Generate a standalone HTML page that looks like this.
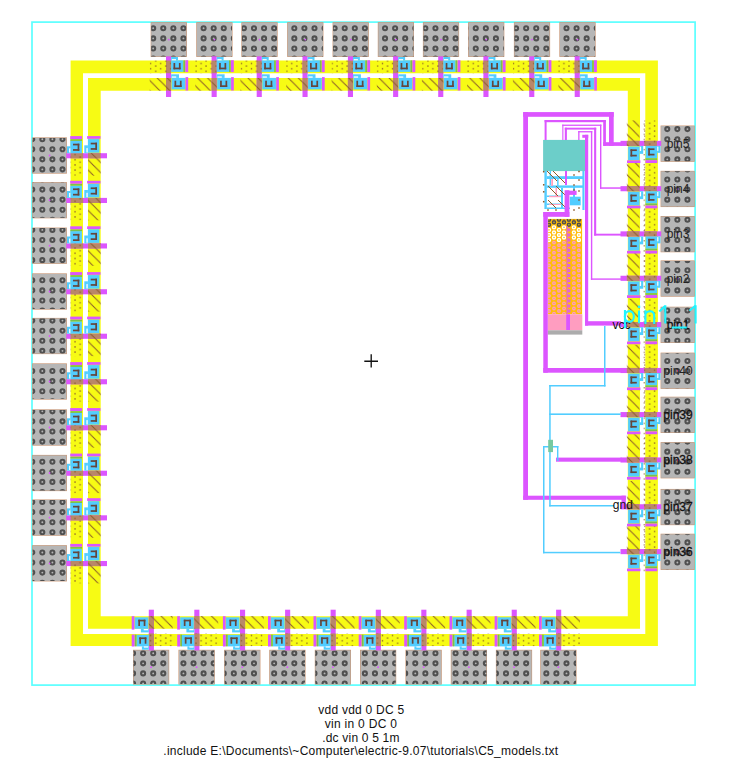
<!DOCTYPE html>
<html><head><meta charset="utf-8"><style>
html,body{margin:0;padding:0;background:#fff;}
svg{display:block;}
text{font-family:"Liberation Sans",sans-serif;}
</style></head><body>
<svg width="731" height="769" viewBox="0 0 731 769">
<defs><pattern id="dots" patternUnits="userSpaceOnUse" x="155.7" y="60.9" width="10.08" height="5.2"><rect x="-0.65" y="-0.65" width="1.3" height="1.3" fill="#8a5a28"/><rect x="9.43" y="4.55" width="1.3" height="1.3" fill="#8a5a28"/><rect x="9.43" y="-0.65" width="1.3" height="1.3" fill="#8a5a28"/><rect x="-0.65" y="4.55" width="1.3" height="1.3" fill="#8a5a28"/><rect x="4.39" y="1.95" width="1.3" height="1.3" fill="#8a5a28"/></pattern>
<pattern id="hatch" patternUnits="userSpaceOnUse" x="79.3" y="0" width="10.08" height="10.08"><path d="M-1,-1L11.08,11.08M-6,4L4,14M4,-6L14,4" stroke="#8a5a28" stroke-width="1"/></pattern>
<pattern id="vdots" patternUnits="userSpaceOnUse" x="643.4" y="159" width="3" height="5.07"><rect x="0.2" y="0" width="1.3" height="1.3" fill="#8a5a28"/></pattern>
<clipPath id="padclip"><rect x="151.2" y="22.7" width="35.2" height="33.7"/><rect x="133.5" y="650.3" width="35.2" height="33.7"/><rect x="32.7" y="137.9" width="33.7" height="35.2"/><rect x="661.1" y="126.05" width="33.1" height="35.2"/><rect x="196.8" y="22.7" width="35.2" height="33.7"/><rect x="179" y="650.3" width="35.2" height="33.7"/><rect x="32.7" y="182.6" width="33.7" height="35.2"/><rect x="661.1" y="171.35" width="33.1" height="35.2"/><rect x="241.9" y="22.7" width="35.2" height="33.7"/><rect x="224.7" y="650.3" width="35.2" height="33.7"/><rect x="32.7" y="228.1" width="33.7" height="35.2"/><rect x="661.1" y="216.55" width="33.1" height="35.2"/><rect x="287.7" y="22.7" width="35.2" height="33.7"/><rect x="269.8" y="650.3" width="35.2" height="33.7"/><rect x="32.7" y="273.9" width="33.7" height="35.2"/><rect x="661.1" y="260.95" width="33.1" height="35.2"/><rect x="333.1" y="22.7" width="35.2" height="33.7"/><rect x="315.3" y="650.3" width="35.2" height="33.7"/><rect x="32.7" y="318.4" width="33.7" height="35.2"/><rect x="661.1" y="307.25" width="33.1" height="35.2"/><rect x="378.3" y="22.7" width="35.2" height="33.7"/><rect x="360.5" y="650.3" width="35.2" height="33.7"/><rect x="32.7" y="363.9" width="33.7" height="35.2"/><rect x="661.1" y="353.15" width="33.1" height="35.2"/><rect x="423.4" y="22.7" width="35.2" height="33.7"/><rect x="406" y="650.3" width="35.2" height="33.7"/><rect x="32.7" y="409.9" width="33.7" height="35.2"/><rect x="661.1" y="397.25" width="33.1" height="35.2"/><rect x="468.6" y="22.7" width="35.2" height="33.7"/><rect x="451.3" y="650.3" width="35.2" height="33.7"/><rect x="32.7" y="455.4" width="33.7" height="35.2"/><rect x="661.1" y="442.65" width="33.1" height="35.2"/><rect x="514.4" y="22.7" width="35.2" height="33.7"/><rect x="496.4" y="650.3" width="35.2" height="33.7"/><rect x="32.7" y="500" width="33.7" height="35.2"/><rect x="661.1" y="489.45" width="33.1" height="35.2"/><rect x="559.9" y="22.7" width="35.2" height="33.7"/><rect x="540.8" y="650.3" width="35.2" height="33.7"/><rect x="32.7" y="545.7" width="33.7" height="35.2"/><rect x="661.1" y="534.25" width="33.1" height="35.2"/></clipPath>
<clipPath id="oclip"><rect x="548.1" y="218.9" width="34" height="95.4"/></clipPath></defs>
<rect width="731" height="769" fill="#fff"/>
<rect x="32" y="22.1" width="663.1" height="663" fill="none" stroke="#5cffff" stroke-width="1.7"/>
<path fill-rule="evenodd" fill="#f7fb14" d="M70.6,60.6H657.9V646.1H70.6Z M83,73.2H645.3V634H83Z M88,78H640V628.7H88Z M100.7,90.7H627.8V616.3H100.7Z"/>
<rect x="149.7" y="60.6" width="21.3" height="12.6" fill="url(#dots)"/>
<rect x="149.7" y="78" width="21.3" height="12.7" fill="url(#hatch)"/>
<rect x="148.9" y="633.5" width="23.8" height="12.6" fill="url(#dots)"/>
<rect x="148.9" y="616" width="23.8" height="12.7" fill="url(#hatch)"/>
<rect x="70.6" y="153.3" width="12.6" height="22.3" fill="url(#dots)"/>
<rect x="88" y="153.3" width="12.7" height="22.3" fill="url(#hatch)"/>
<rect x="644.3" y="120.45" width="12.6" height="25.4" fill="url(#dots)"/>
<rect x="626.8" y="120.45" width="12.7" height="25.4" fill="url(#hatch)"/>
<rect x="195.3" y="60.6" width="21.3" height="12.6" fill="url(#dots)"/>
<rect x="195.3" y="78" width="21.3" height="12.7" fill="url(#hatch)"/>
<rect x="194.4" y="633.5" width="23.8" height="12.6" fill="url(#dots)"/>
<rect x="194.4" y="616" width="23.8" height="12.7" fill="url(#hatch)"/>
<rect x="70.6" y="198" width="12.6" height="22.3" fill="url(#dots)"/>
<rect x="88" y="198" width="12.7" height="22.3" fill="url(#hatch)"/>
<rect x="644.3" y="162.95" width="12.6" height="28.2" fill="url(#dots)"/>
<rect x="626.8" y="162.95" width="12.7" height="28.2" fill="url(#hatch)"/>
<rect x="240.4" y="60.6" width="21.3" height="12.6" fill="url(#dots)"/>
<rect x="240.4" y="78" width="21.3" height="12.7" fill="url(#hatch)"/>
<rect x="240.1" y="633.5" width="23.8" height="12.6" fill="url(#dots)"/>
<rect x="240.1" y="616" width="23.8" height="12.7" fill="url(#hatch)"/>
<rect x="70.6" y="243.5" width="12.6" height="22.3" fill="url(#dots)"/>
<rect x="88" y="243.5" width="12.7" height="22.3" fill="url(#hatch)"/>
<rect x="644.3" y="208.15" width="12.6" height="28.2" fill="url(#dots)"/>
<rect x="626.8" y="208.15" width="12.7" height="28.2" fill="url(#hatch)"/>
<rect x="286.2" y="60.6" width="21.3" height="12.6" fill="url(#dots)"/>
<rect x="286.2" y="78" width="21.3" height="12.7" fill="url(#hatch)"/>
<rect x="285.2" y="633.5" width="23.8" height="12.6" fill="url(#dots)"/>
<rect x="285.2" y="616" width="23.8" height="12.7" fill="url(#hatch)"/>
<rect x="70.6" y="289.3" width="12.6" height="22.3" fill="url(#dots)"/>
<rect x="88" y="289.3" width="12.7" height="22.3" fill="url(#hatch)"/>
<rect x="644.3" y="252.55" width="12.6" height="28.2" fill="url(#dots)"/>
<rect x="626.8" y="252.55" width="12.7" height="28.2" fill="url(#hatch)"/>
<rect x="331.6" y="60.6" width="21.3" height="12.6" fill="url(#dots)"/>
<rect x="331.6" y="78" width="21.3" height="12.7" fill="url(#hatch)"/>
<rect x="330.7" y="633.5" width="23.8" height="12.6" fill="url(#dots)"/>
<rect x="330.7" y="616" width="23.8" height="12.7" fill="url(#hatch)"/>
<rect x="70.6" y="333.8" width="12.6" height="22.3" fill="url(#dots)"/>
<rect x="88" y="333.8" width="12.7" height="22.3" fill="url(#hatch)"/>
<rect x="644.3" y="298.85" width="12.6" height="28.2" fill="url(#dots)"/>
<rect x="626.8" y="298.85" width="12.7" height="28.2" fill="url(#hatch)"/>
<rect x="376.8" y="60.6" width="21.3" height="12.6" fill="url(#dots)"/>
<rect x="376.8" y="78" width="21.3" height="12.7" fill="url(#hatch)"/>
<rect x="375.9" y="633.5" width="23.8" height="12.6" fill="url(#dots)"/>
<rect x="375.9" y="616" width="23.8" height="12.7" fill="url(#hatch)"/>
<rect x="70.6" y="379.3" width="12.6" height="22.3" fill="url(#dots)"/>
<rect x="88" y="379.3" width="12.7" height="22.3" fill="url(#hatch)"/>
<rect x="644.3" y="344.75" width="12.6" height="28.2" fill="url(#dots)"/>
<rect x="626.8" y="344.75" width="12.7" height="28.2" fill="url(#hatch)"/>
<rect x="421.9" y="60.6" width="21.3" height="12.6" fill="url(#dots)"/>
<rect x="421.9" y="78" width="21.3" height="12.7" fill="url(#hatch)"/>
<rect x="421.4" y="633.5" width="23.8" height="12.6" fill="url(#dots)"/>
<rect x="421.4" y="616" width="23.8" height="12.7" fill="url(#hatch)"/>
<rect x="70.6" y="425.3" width="12.6" height="22.3" fill="url(#dots)"/>
<rect x="88" y="425.3" width="12.7" height="22.3" fill="url(#hatch)"/>
<rect x="644.3" y="388.85" width="12.6" height="28.2" fill="url(#dots)"/>
<rect x="626.8" y="388.85" width="12.7" height="28.2" fill="url(#hatch)"/>
<rect x="467.1" y="60.6" width="21.3" height="12.6" fill="url(#dots)"/>
<rect x="467.1" y="78" width="21.3" height="12.7" fill="url(#hatch)"/>
<rect x="466.7" y="633.5" width="23.8" height="12.6" fill="url(#dots)"/>
<rect x="466.7" y="616" width="23.8" height="12.7" fill="url(#hatch)"/>
<rect x="70.6" y="470.8" width="12.6" height="22.3" fill="url(#dots)"/>
<rect x="88" y="470.8" width="12.7" height="22.3" fill="url(#hatch)"/>
<rect x="644.3" y="434.25" width="12.6" height="28.2" fill="url(#dots)"/>
<rect x="626.8" y="434.25" width="12.7" height="28.2" fill="url(#hatch)"/>
<rect x="512.9" y="60.6" width="21.3" height="12.6" fill="url(#dots)"/>
<rect x="512.9" y="78" width="21.3" height="12.7" fill="url(#hatch)"/>
<rect x="511.8" y="633.5" width="23.8" height="12.6" fill="url(#dots)"/>
<rect x="511.8" y="616" width="23.8" height="12.7" fill="url(#hatch)"/>
<rect x="70.6" y="515.4" width="12.6" height="22.3" fill="url(#dots)"/>
<rect x="88" y="515.4" width="12.7" height="22.3" fill="url(#hatch)"/>
<rect x="644.3" y="481.05" width="12.6" height="28.2" fill="url(#dots)"/>
<rect x="626.8" y="481.05" width="12.7" height="28.2" fill="url(#hatch)"/>
<rect x="558.4" y="60.6" width="21.3" height="12.6" fill="url(#dots)"/>
<rect x="558.4" y="78" width="21.3" height="12.7" fill="url(#hatch)"/>
<rect x="556.2" y="633.5" width="23.8" height="12.6" fill="url(#dots)"/>
<rect x="556.2" y="616" width="23.8" height="12.7" fill="url(#hatch)"/>
<rect x="70.6" y="561.1" width="12.6" height="22.3" fill="url(#dots)"/>
<rect x="88" y="561.1" width="12.7" height="22.3" fill="url(#hatch)"/>
<rect x="644.3" y="525.85" width="12.6" height="28.2" fill="url(#dots)"/>
<rect x="626.8" y="525.85" width="12.7" height="28.2" fill="url(#hatch)"/>
<rect x="643.4" y="121.5" width="1.6" height="451.5" fill="url(#vdots)"/>
<rect x="150.7" y="22.2" width="36.2" height="34.7" fill="#c8906a"/>
<rect x="151.2" y="22.7" width="35.2" height="33.7" fill="#b6b6b6"/>
<rect x="133" y="649.8" width="36.2" height="34.7" fill="#c8906a"/>
<rect x="133.5" y="650.3" width="35.2" height="33.7" fill="#b6b6b6"/>
<rect x="32.2" y="137.4" width="34.7" height="36.2" fill="#c8906a"/>
<rect x="32.7" y="137.9" width="33.7" height="35.2" fill="#b6b6b6"/>
<rect x="660.6" y="125.55" width="34.1" height="36.2" fill="#c8906a"/>
<rect x="661.1" y="126.05" width="33.1" height="35.2" fill="#b6b6b6"/>
<rect x="196.3" y="22.2" width="36.2" height="34.7" fill="#c8906a"/>
<rect x="196.8" y="22.7" width="35.2" height="33.7" fill="#b6b6b6"/>
<rect x="178.5" y="649.8" width="36.2" height="34.7" fill="#c8906a"/>
<rect x="179" y="650.3" width="35.2" height="33.7" fill="#b6b6b6"/>
<rect x="32.2" y="182.1" width="34.7" height="36.2" fill="#c8906a"/>
<rect x="32.7" y="182.6" width="33.7" height="35.2" fill="#b6b6b6"/>
<rect x="660.6" y="170.85" width="34.1" height="36.2" fill="#c8906a"/>
<rect x="661.1" y="171.35" width="33.1" height="35.2" fill="#b6b6b6"/>
<rect x="241.4" y="22.2" width="36.2" height="34.7" fill="#c8906a"/>
<rect x="241.9" y="22.7" width="35.2" height="33.7" fill="#b6b6b6"/>
<rect x="224.2" y="649.8" width="36.2" height="34.7" fill="#c8906a"/>
<rect x="224.7" y="650.3" width="35.2" height="33.7" fill="#b6b6b6"/>
<rect x="32.2" y="227.6" width="34.7" height="36.2" fill="#c8906a"/>
<rect x="32.7" y="228.1" width="33.7" height="35.2" fill="#b6b6b6"/>
<rect x="660.6" y="216.05" width="34.1" height="36.2" fill="#c8906a"/>
<rect x="661.1" y="216.55" width="33.1" height="35.2" fill="#b6b6b6"/>
<rect x="287.2" y="22.2" width="36.2" height="34.7" fill="#c8906a"/>
<rect x="287.7" y="22.7" width="35.2" height="33.7" fill="#b6b6b6"/>
<rect x="269.3" y="649.8" width="36.2" height="34.7" fill="#c8906a"/>
<rect x="269.8" y="650.3" width="35.2" height="33.7" fill="#b6b6b6"/>
<rect x="32.2" y="273.4" width="34.7" height="36.2" fill="#c8906a"/>
<rect x="32.7" y="273.9" width="33.7" height="35.2" fill="#b6b6b6"/>
<rect x="660.6" y="260.45" width="34.1" height="36.2" fill="#c8906a"/>
<rect x="661.1" y="260.95" width="33.1" height="35.2" fill="#b6b6b6"/>
<rect x="332.6" y="22.2" width="36.2" height="34.7" fill="#c8906a"/>
<rect x="333.1" y="22.7" width="35.2" height="33.7" fill="#b6b6b6"/>
<rect x="314.8" y="649.8" width="36.2" height="34.7" fill="#c8906a"/>
<rect x="315.3" y="650.3" width="35.2" height="33.7" fill="#b6b6b6"/>
<rect x="32.2" y="317.9" width="34.7" height="36.2" fill="#c8906a"/>
<rect x="32.7" y="318.4" width="33.7" height="35.2" fill="#b6b6b6"/>
<rect x="660.6" y="306.75" width="34.1" height="36.2" fill="#c8906a"/>
<rect x="661.1" y="307.25" width="33.1" height="35.2" fill="#b6b6b6"/>
<rect x="377.8" y="22.2" width="36.2" height="34.7" fill="#c8906a"/>
<rect x="378.3" y="22.7" width="35.2" height="33.7" fill="#b6b6b6"/>
<rect x="360" y="649.8" width="36.2" height="34.7" fill="#c8906a"/>
<rect x="360.5" y="650.3" width="35.2" height="33.7" fill="#b6b6b6"/>
<rect x="32.2" y="363.4" width="34.7" height="36.2" fill="#c8906a"/>
<rect x="32.7" y="363.9" width="33.7" height="35.2" fill="#b6b6b6"/>
<rect x="660.6" y="352.65" width="34.1" height="36.2" fill="#c8906a"/>
<rect x="661.1" y="353.15" width="33.1" height="35.2" fill="#b6b6b6"/>
<rect x="422.9" y="22.2" width="36.2" height="34.7" fill="#c8906a"/>
<rect x="423.4" y="22.7" width="35.2" height="33.7" fill="#b6b6b6"/>
<rect x="405.5" y="649.8" width="36.2" height="34.7" fill="#c8906a"/>
<rect x="406" y="650.3" width="35.2" height="33.7" fill="#b6b6b6"/>
<rect x="32.2" y="409.4" width="34.7" height="36.2" fill="#c8906a"/>
<rect x="32.7" y="409.9" width="33.7" height="35.2" fill="#b6b6b6"/>
<rect x="660.6" y="396.75" width="34.1" height="36.2" fill="#c8906a"/>
<rect x="661.1" y="397.25" width="33.1" height="35.2" fill="#b6b6b6"/>
<rect x="468.1" y="22.2" width="36.2" height="34.7" fill="#c8906a"/>
<rect x="468.6" y="22.7" width="35.2" height="33.7" fill="#b6b6b6"/>
<rect x="450.8" y="649.8" width="36.2" height="34.7" fill="#c8906a"/>
<rect x="451.3" y="650.3" width="35.2" height="33.7" fill="#b6b6b6"/>
<rect x="32.2" y="454.9" width="34.7" height="36.2" fill="#c8906a"/>
<rect x="32.7" y="455.4" width="33.7" height="35.2" fill="#b6b6b6"/>
<rect x="660.6" y="442.15" width="34.1" height="36.2" fill="#c8906a"/>
<rect x="661.1" y="442.65" width="33.1" height="35.2" fill="#b6b6b6"/>
<rect x="513.9" y="22.2" width="36.2" height="34.7" fill="#c8906a"/>
<rect x="514.4" y="22.7" width="35.2" height="33.7" fill="#b6b6b6"/>
<rect x="495.9" y="649.8" width="36.2" height="34.7" fill="#c8906a"/>
<rect x="496.4" y="650.3" width="35.2" height="33.7" fill="#b6b6b6"/>
<rect x="32.2" y="499.5" width="34.7" height="36.2" fill="#c8906a"/>
<rect x="32.7" y="500" width="33.7" height="35.2" fill="#b6b6b6"/>
<rect x="660.6" y="488.95" width="34.1" height="36.2" fill="#c8906a"/>
<rect x="661.1" y="489.45" width="33.1" height="35.2" fill="#b6b6b6"/>
<rect x="559.4" y="22.2" width="36.2" height="34.7" fill="#c8906a"/>
<rect x="559.9" y="22.7" width="35.2" height="33.7" fill="#b6b6b6"/>
<rect x="540.3" y="649.8" width="36.2" height="34.7" fill="#c8906a"/>
<rect x="540.8" y="650.3" width="35.2" height="33.7" fill="#b6b6b6"/>
<rect x="32.2" y="545.2" width="34.7" height="36.2" fill="#c8906a"/>
<rect x="32.7" y="545.7" width="33.7" height="35.2" fill="#b6b6b6"/>
<rect x="660.6" y="533.75" width="34.1" height="36.2" fill="#c8906a"/>
<rect x="661.1" y="534.25" width="33.1" height="35.2" fill="#b6b6b6"/>
<g clip-path="url(#padclip)"><path d="M151.2,28.3a2,2 0 1,0 4,0a2,2 0 1,0 -4,0zM151.2,38.38a2,2 0 1,0 4,0a2,2 0 1,0 -4,0zM151.2,48.46a2,2 0 1,0 4,0a2,2 0 1,0 -4,0zM151.2,58.54a2,2 0 1,0 4,0a2,2 0 1,0 -4,0zM161.28,28.3a2,2 0 1,0 4,0a2,2 0 1,0 -4,0zM161.28,38.38a2,2 0 1,0 4,0a2,2 0 1,0 -4,0zM161.28,48.46a2,2 0 1,0 4,0a2,2 0 1,0 -4,0zM161.28,58.54a2,2 0 1,0 4,0a2,2 0 1,0 -4,0zM171.36,28.3a2,2 0 1,0 4,0a2,2 0 1,0 -4,0zM171.36,38.38a2,2 0 1,0 4,0a2,2 0 1,0 -4,0zM171.36,48.46a2,2 0 1,0 4,0a2,2 0 1,0 -4,0zM171.36,58.54a2,2 0 1,0 4,0a2,2 0 1,0 -4,0zM181.44,28.3a2,2 0 1,0 4,0a2,2 0 1,0 -4,0zM181.44,38.38a2,2 0 1,0 4,0a2,2 0 1,0 -4,0zM181.44,48.46a2,2 0 1,0 4,0a2,2 0 1,0 -4,0zM181.44,58.54a2,2 0 1,0 4,0a2,2 0 1,0 -4,0zM131.04,653.26a2,2 0 1,0 4,0a2,2 0 1,0 -4,0zM131.04,663.34a2,2 0 1,0 4,0a2,2 0 1,0 -4,0zM131.04,673.42a2,2 0 1,0 4,0a2,2 0 1,0 -4,0zM131.04,683.5a2,2 0 1,0 4,0a2,2 0 1,0 -4,0zM141.12,653.26a2,2 0 1,0 4,0a2,2 0 1,0 -4,0zM141.12,663.34a2,2 0 1,0 4,0a2,2 0 1,0 -4,0zM141.12,673.42a2,2 0 1,0 4,0a2,2 0 1,0 -4,0zM141.12,683.5a2,2 0 1,0 4,0a2,2 0 1,0 -4,0zM151.2,653.26a2,2 0 1,0 4,0a2,2 0 1,0 -4,0zM151.2,663.34a2,2 0 1,0 4,0a2,2 0 1,0 -4,0zM151.2,673.42a2,2 0 1,0 4,0a2,2 0 1,0 -4,0zM151.2,683.5a2,2 0 1,0 4,0a2,2 0 1,0 -4,0zM161.28,653.26a2,2 0 1,0 4,0a2,2 0 1,0 -4,0zM161.28,663.34a2,2 0 1,0 4,0a2,2 0 1,0 -4,0zM161.28,673.42a2,2 0 1,0 4,0a2,2 0 1,0 -4,0zM161.28,683.5a2,2 0 1,0 4,0a2,2 0 1,0 -4,0zM30.24,139.18a2,2 0 1,0 4,0a2,2 0 1,0 -4,0zM30.24,149.26a2,2 0 1,0 4,0a2,2 0 1,0 -4,0zM30.24,159.34a2,2 0 1,0 4,0a2,2 0 1,0 -4,0zM30.24,169.42a2,2 0 1,0 4,0a2,2 0 1,0 -4,0zM40.32,139.18a2,2 0 1,0 4,0a2,2 0 1,0 -4,0zM40.32,149.26a2,2 0 1,0 4,0a2,2 0 1,0 -4,0zM40.32,159.34a2,2 0 1,0 4,0a2,2 0 1,0 -4,0zM40.32,169.42a2,2 0 1,0 4,0a2,2 0 1,0 -4,0zM50.4,139.18a2,2 0 1,0 4,0a2,2 0 1,0 -4,0zM50.4,149.26a2,2 0 1,0 4,0a2,2 0 1,0 -4,0zM50.4,159.34a2,2 0 1,0 4,0a2,2 0 1,0 -4,0zM50.4,169.42a2,2 0 1,0 4,0a2,2 0 1,0 -4,0zM60.48,139.18a2,2 0 1,0 4,0a2,2 0 1,0 -4,0zM60.48,149.26a2,2 0 1,0 4,0a2,2 0 1,0 -4,0zM60.48,159.34a2,2 0 1,0 4,0a2,2 0 1,0 -4,0zM60.48,169.42a2,2 0 1,0 4,0a2,2 0 1,0 -4,0zM665.28,129.1a2,2 0 1,0 4,0a2,2 0 1,0 -4,0zM665.28,139.18a2,2 0 1,0 4,0a2,2 0 1,0 -4,0zM665.28,149.26a2,2 0 1,0 4,0a2,2 0 1,0 -4,0zM665.28,159.34a2,2 0 1,0 4,0a2,2 0 1,0 -4,0zM675.36,129.1a2,2 0 1,0 4,0a2,2 0 1,0 -4,0zM675.36,139.18a2,2 0 1,0 4,0a2,2 0 1,0 -4,0zM675.36,149.26a2,2 0 1,0 4,0a2,2 0 1,0 -4,0zM675.36,159.34a2,2 0 1,0 4,0a2,2 0 1,0 -4,0zM685.44,129.1a2,2 0 1,0 4,0a2,2 0 1,0 -4,0zM685.44,139.18a2,2 0 1,0 4,0a2,2 0 1,0 -4,0zM685.44,149.26a2,2 0 1,0 4,0a2,2 0 1,0 -4,0zM685.44,159.34a2,2 0 1,0 4,0a2,2 0 1,0 -4,0zM201.6,28.3a2,2 0 1,0 4,0a2,2 0 1,0 -4,0zM201.6,38.38a2,2 0 1,0 4,0a2,2 0 1,0 -4,0zM201.6,48.46a2,2 0 1,0 4,0a2,2 0 1,0 -4,0zM201.6,58.54a2,2 0 1,0 4,0a2,2 0 1,0 -4,0zM211.68,28.3a2,2 0 1,0 4,0a2,2 0 1,0 -4,0zM211.68,38.38a2,2 0 1,0 4,0a2,2 0 1,0 -4,0zM211.68,48.46a2,2 0 1,0 4,0a2,2 0 1,0 -4,0zM211.68,58.54a2,2 0 1,0 4,0a2,2 0 1,0 -4,0zM221.76,28.3a2,2 0 1,0 4,0a2,2 0 1,0 -4,0zM221.76,38.38a2,2 0 1,0 4,0a2,2 0 1,0 -4,0zM221.76,48.46a2,2 0 1,0 4,0a2,2 0 1,0 -4,0zM221.76,58.54a2,2 0 1,0 4,0a2,2 0 1,0 -4,0zM231.84,28.3a2,2 0 1,0 4,0a2,2 0 1,0 -4,0zM231.84,38.38a2,2 0 1,0 4,0a2,2 0 1,0 -4,0zM231.84,48.46a2,2 0 1,0 4,0a2,2 0 1,0 -4,0zM231.84,58.54a2,2 0 1,0 4,0a2,2 0 1,0 -4,0zM181.44,653.26a2,2 0 1,0 4,0a2,2 0 1,0 -4,0zM181.44,663.34a2,2 0 1,0 4,0a2,2 0 1,0 -4,0zM181.44,673.42a2,2 0 1,0 4,0a2,2 0 1,0 -4,0zM181.44,683.5a2,2 0 1,0 4,0a2,2 0 1,0 -4,0zM191.52,653.26a2,2 0 1,0 4,0a2,2 0 1,0 -4,0zM191.52,663.34a2,2 0 1,0 4,0a2,2 0 1,0 -4,0zM191.52,673.42a2,2 0 1,0 4,0a2,2 0 1,0 -4,0zM191.52,683.5a2,2 0 1,0 4,0a2,2 0 1,0 -4,0zM201.6,653.26a2,2 0 1,0 4,0a2,2 0 1,0 -4,0zM201.6,663.34a2,2 0 1,0 4,0a2,2 0 1,0 -4,0zM201.6,673.42a2,2 0 1,0 4,0a2,2 0 1,0 -4,0zM201.6,683.5a2,2 0 1,0 4,0a2,2 0 1,0 -4,0zM211.68,653.26a2,2 0 1,0 4,0a2,2 0 1,0 -4,0zM211.68,663.34a2,2 0 1,0 4,0a2,2 0 1,0 -4,0zM211.68,673.42a2,2 0 1,0 4,0a2,2 0 1,0 -4,0zM211.68,683.5a2,2 0 1,0 4,0a2,2 0 1,0 -4,0zM30.24,179.5a2,2 0 1,0 4,0a2,2 0 1,0 -4,0zM30.24,189.58a2,2 0 1,0 4,0a2,2 0 1,0 -4,0zM30.24,199.66a2,2 0 1,0 4,0a2,2 0 1,0 -4,0zM30.24,209.74a2,2 0 1,0 4,0a2,2 0 1,0 -4,0zM30.24,219.82a2,2 0 1,0 4,0a2,2 0 1,0 -4,0zM40.32,179.5a2,2 0 1,0 4,0a2,2 0 1,0 -4,0zM40.32,189.58a2,2 0 1,0 4,0a2,2 0 1,0 -4,0zM40.32,199.66a2,2 0 1,0 4,0a2,2 0 1,0 -4,0zM40.32,209.74a2,2 0 1,0 4,0a2,2 0 1,0 -4,0zM40.32,219.82a2,2 0 1,0 4,0a2,2 0 1,0 -4,0zM50.4,179.5a2,2 0 1,0 4,0a2,2 0 1,0 -4,0zM50.4,189.58a2,2 0 1,0 4,0a2,2 0 1,0 -4,0zM50.4,199.66a2,2 0 1,0 4,0a2,2 0 1,0 -4,0zM50.4,209.74a2,2 0 1,0 4,0a2,2 0 1,0 -4,0zM50.4,219.82a2,2 0 1,0 4,0a2,2 0 1,0 -4,0zM60.48,179.5a2,2 0 1,0 4,0a2,2 0 1,0 -4,0zM60.48,189.58a2,2 0 1,0 4,0a2,2 0 1,0 -4,0zM60.48,199.66a2,2 0 1,0 4,0a2,2 0 1,0 -4,0zM60.48,209.74a2,2 0 1,0 4,0a2,2 0 1,0 -4,0zM60.48,219.82a2,2 0 1,0 4,0a2,2 0 1,0 -4,0zM665.28,169.42a2,2 0 1,0 4,0a2,2 0 1,0 -4,0zM665.28,179.5a2,2 0 1,0 4,0a2,2 0 1,0 -4,0zM665.28,189.58a2,2 0 1,0 4,0a2,2 0 1,0 -4,0zM665.28,199.66a2,2 0 1,0 4,0a2,2 0 1,0 -4,0zM665.28,209.74a2,2 0 1,0 4,0a2,2 0 1,0 -4,0zM675.36,169.42a2,2 0 1,0 4,0a2,2 0 1,0 -4,0zM675.36,179.5a2,2 0 1,0 4,0a2,2 0 1,0 -4,0zM675.36,189.58a2,2 0 1,0 4,0a2,2 0 1,0 -4,0zM675.36,199.66a2,2 0 1,0 4,0a2,2 0 1,0 -4,0zM675.36,209.74a2,2 0 1,0 4,0a2,2 0 1,0 -4,0zM685.44,169.42a2,2 0 1,0 4,0a2,2 0 1,0 -4,0zM685.44,179.5a2,2 0 1,0 4,0a2,2 0 1,0 -4,0zM685.44,189.58a2,2 0 1,0 4,0a2,2 0 1,0 -4,0zM685.44,199.66a2,2 0 1,0 4,0a2,2 0 1,0 -4,0zM685.44,209.74a2,2 0 1,0 4,0a2,2 0 1,0 -4,0zM241.92,28.3a2,2 0 1,0 4,0a2,2 0 1,0 -4,0zM241.92,38.38a2,2 0 1,0 4,0a2,2 0 1,0 -4,0zM241.92,48.46a2,2 0 1,0 4,0a2,2 0 1,0 -4,0zM241.92,58.54a2,2 0 1,0 4,0a2,2 0 1,0 -4,0zM252,28.3a2,2 0 1,0 4,0a2,2 0 1,0 -4,0zM252,38.38a2,2 0 1,0 4,0a2,2 0 1,0 -4,0zM252,48.46a2,2 0 1,0 4,0a2,2 0 1,0 -4,0zM252,58.54a2,2 0 1,0 4,0a2,2 0 1,0 -4,0zM262.08,28.3a2,2 0 1,0 4,0a2,2 0 1,0 -4,0zM262.08,38.38a2,2 0 1,0 4,0a2,2 0 1,0 -4,0zM262.08,48.46a2,2 0 1,0 4,0a2,2 0 1,0 -4,0zM262.08,58.54a2,2 0 1,0 4,0a2,2 0 1,0 -4,0zM272.16,28.3a2,2 0 1,0 4,0a2,2 0 1,0 -4,0zM272.16,38.38a2,2 0 1,0 4,0a2,2 0 1,0 -4,0zM272.16,48.46a2,2 0 1,0 4,0a2,2 0 1,0 -4,0zM272.16,58.54a2,2 0 1,0 4,0a2,2 0 1,0 -4,0zM221.76,653.26a2,2 0 1,0 4,0a2,2 0 1,0 -4,0zM221.76,663.34a2,2 0 1,0 4,0a2,2 0 1,0 -4,0zM221.76,673.42a2,2 0 1,0 4,0a2,2 0 1,0 -4,0zM221.76,683.5a2,2 0 1,0 4,0a2,2 0 1,0 -4,0zM231.84,653.26a2,2 0 1,0 4,0a2,2 0 1,0 -4,0zM231.84,663.34a2,2 0 1,0 4,0a2,2 0 1,0 -4,0zM231.84,673.42a2,2 0 1,0 4,0a2,2 0 1,0 -4,0zM231.84,683.5a2,2 0 1,0 4,0a2,2 0 1,0 -4,0zM241.92,653.26a2,2 0 1,0 4,0a2,2 0 1,0 -4,0zM241.92,663.34a2,2 0 1,0 4,0a2,2 0 1,0 -4,0zM241.92,673.42a2,2 0 1,0 4,0a2,2 0 1,0 -4,0zM241.92,683.5a2,2 0 1,0 4,0a2,2 0 1,0 -4,0zM252,653.26a2,2 0 1,0 4,0a2,2 0 1,0 -4,0zM252,663.34a2,2 0 1,0 4,0a2,2 0 1,0 -4,0zM252,673.42a2,2 0 1,0 4,0a2,2 0 1,0 -4,0zM252,683.5a2,2 0 1,0 4,0a2,2 0 1,0 -4,0zM30.24,229.9a2,2 0 1,0 4,0a2,2 0 1,0 -4,0zM30.24,239.98a2,2 0 1,0 4,0a2,2 0 1,0 -4,0zM30.24,250.06a2,2 0 1,0 4,0a2,2 0 1,0 -4,0zM30.24,260.14a2,2 0 1,0 4,0a2,2 0 1,0 -4,0zM40.32,229.9a2,2 0 1,0 4,0a2,2 0 1,0 -4,0zM40.32,239.98a2,2 0 1,0 4,0a2,2 0 1,0 -4,0zM40.32,250.06a2,2 0 1,0 4,0a2,2 0 1,0 -4,0zM40.32,260.14a2,2 0 1,0 4,0a2,2 0 1,0 -4,0zM50.4,229.9a2,2 0 1,0 4,0a2,2 0 1,0 -4,0zM50.4,239.98a2,2 0 1,0 4,0a2,2 0 1,0 -4,0zM50.4,250.06a2,2 0 1,0 4,0a2,2 0 1,0 -4,0zM50.4,260.14a2,2 0 1,0 4,0a2,2 0 1,0 -4,0zM60.48,229.9a2,2 0 1,0 4,0a2,2 0 1,0 -4,0zM60.48,239.98a2,2 0 1,0 4,0a2,2 0 1,0 -4,0zM60.48,250.06a2,2 0 1,0 4,0a2,2 0 1,0 -4,0zM60.48,260.14a2,2 0 1,0 4,0a2,2 0 1,0 -4,0zM665.28,219.82a2,2 0 1,0 4,0a2,2 0 1,0 -4,0zM665.28,229.9a2,2 0 1,0 4,0a2,2 0 1,0 -4,0zM665.28,239.98a2,2 0 1,0 4,0a2,2 0 1,0 -4,0zM665.28,250.06a2,2 0 1,0 4,0a2,2 0 1,0 -4,0zM675.36,219.82a2,2 0 1,0 4,0a2,2 0 1,0 -4,0zM675.36,229.9a2,2 0 1,0 4,0a2,2 0 1,0 -4,0zM675.36,239.98a2,2 0 1,0 4,0a2,2 0 1,0 -4,0zM675.36,250.06a2,2 0 1,0 4,0a2,2 0 1,0 -4,0zM685.44,219.82a2,2 0 1,0 4,0a2,2 0 1,0 -4,0zM685.44,229.9a2,2 0 1,0 4,0a2,2 0 1,0 -4,0zM685.44,239.98a2,2 0 1,0 4,0a2,2 0 1,0 -4,0zM685.44,250.06a2,2 0 1,0 4,0a2,2 0 1,0 -4,0zM292.32,28.3a2,2 0 1,0 4,0a2,2 0 1,0 -4,0zM292.32,38.38a2,2 0 1,0 4,0a2,2 0 1,0 -4,0zM292.32,48.46a2,2 0 1,0 4,0a2,2 0 1,0 -4,0zM292.32,58.54a2,2 0 1,0 4,0a2,2 0 1,0 -4,0zM302.4,28.3a2,2 0 1,0 4,0a2,2 0 1,0 -4,0zM302.4,38.38a2,2 0 1,0 4,0a2,2 0 1,0 -4,0zM302.4,48.46a2,2 0 1,0 4,0a2,2 0 1,0 -4,0zM302.4,58.54a2,2 0 1,0 4,0a2,2 0 1,0 -4,0zM312.48,28.3a2,2 0 1,0 4,0a2,2 0 1,0 -4,0zM312.48,38.38a2,2 0 1,0 4,0a2,2 0 1,0 -4,0zM312.48,48.46a2,2 0 1,0 4,0a2,2 0 1,0 -4,0zM312.48,58.54a2,2 0 1,0 4,0a2,2 0 1,0 -4,0zM322.56,28.3a2,2 0 1,0 4,0a2,2 0 1,0 -4,0zM322.56,38.38a2,2 0 1,0 4,0a2,2 0 1,0 -4,0zM322.56,48.46a2,2 0 1,0 4,0a2,2 0 1,0 -4,0zM322.56,58.54a2,2 0 1,0 4,0a2,2 0 1,0 -4,0zM272.16,653.26a2,2 0 1,0 4,0a2,2 0 1,0 -4,0zM272.16,663.34a2,2 0 1,0 4,0a2,2 0 1,0 -4,0zM272.16,673.42a2,2 0 1,0 4,0a2,2 0 1,0 -4,0zM272.16,683.5a2,2 0 1,0 4,0a2,2 0 1,0 -4,0zM282.24,653.26a2,2 0 1,0 4,0a2,2 0 1,0 -4,0zM282.24,663.34a2,2 0 1,0 4,0a2,2 0 1,0 -4,0zM282.24,673.42a2,2 0 1,0 4,0a2,2 0 1,0 -4,0zM282.24,683.5a2,2 0 1,0 4,0a2,2 0 1,0 -4,0zM292.32,653.26a2,2 0 1,0 4,0a2,2 0 1,0 -4,0zM292.32,663.34a2,2 0 1,0 4,0a2,2 0 1,0 -4,0zM292.32,673.42a2,2 0 1,0 4,0a2,2 0 1,0 -4,0zM292.32,683.5a2,2 0 1,0 4,0a2,2 0 1,0 -4,0zM302.4,653.26a2,2 0 1,0 4,0a2,2 0 1,0 -4,0zM302.4,663.34a2,2 0 1,0 4,0a2,2 0 1,0 -4,0zM302.4,673.42a2,2 0 1,0 4,0a2,2 0 1,0 -4,0zM302.4,683.5a2,2 0 1,0 4,0a2,2 0 1,0 -4,0zM30.24,280.3a2,2 0 1,0 4,0a2,2 0 1,0 -4,0zM30.24,290.38a2,2 0 1,0 4,0a2,2 0 1,0 -4,0zM30.24,300.46a2,2 0 1,0 4,0a2,2 0 1,0 -4,0zM30.24,310.54a2,2 0 1,0 4,0a2,2 0 1,0 -4,0zM40.32,280.3a2,2 0 1,0 4,0a2,2 0 1,0 -4,0zM40.32,290.38a2,2 0 1,0 4,0a2,2 0 1,0 -4,0zM40.32,300.46a2,2 0 1,0 4,0a2,2 0 1,0 -4,0zM40.32,310.54a2,2 0 1,0 4,0a2,2 0 1,0 -4,0zM50.4,280.3a2,2 0 1,0 4,0a2,2 0 1,0 -4,0zM50.4,290.38a2,2 0 1,0 4,0a2,2 0 1,0 -4,0zM50.4,300.46a2,2 0 1,0 4,0a2,2 0 1,0 -4,0zM50.4,310.54a2,2 0 1,0 4,0a2,2 0 1,0 -4,0zM60.48,280.3a2,2 0 1,0 4,0a2,2 0 1,0 -4,0zM60.48,290.38a2,2 0 1,0 4,0a2,2 0 1,0 -4,0zM60.48,300.46a2,2 0 1,0 4,0a2,2 0 1,0 -4,0zM60.48,310.54a2,2 0 1,0 4,0a2,2 0 1,0 -4,0zM665.28,260.14a2,2 0 1,0 4,0a2,2 0 1,0 -4,0zM665.28,270.22a2,2 0 1,0 4,0a2,2 0 1,0 -4,0zM665.28,280.3a2,2 0 1,0 4,0a2,2 0 1,0 -4,0zM665.28,290.38a2,2 0 1,0 4,0a2,2 0 1,0 -4,0zM675.36,260.14a2,2 0 1,0 4,0a2,2 0 1,0 -4,0zM675.36,270.22a2,2 0 1,0 4,0a2,2 0 1,0 -4,0zM675.36,280.3a2,2 0 1,0 4,0a2,2 0 1,0 -4,0zM675.36,290.38a2,2 0 1,0 4,0a2,2 0 1,0 -4,0zM685.44,260.14a2,2 0 1,0 4,0a2,2 0 1,0 -4,0zM685.44,270.22a2,2 0 1,0 4,0a2,2 0 1,0 -4,0zM685.44,280.3a2,2 0 1,0 4,0a2,2 0 1,0 -4,0zM685.44,290.38a2,2 0 1,0 4,0a2,2 0 1,0 -4,0zM332.64,28.3a2,2 0 1,0 4,0a2,2 0 1,0 -4,0zM332.64,38.38a2,2 0 1,0 4,0a2,2 0 1,0 -4,0zM332.64,48.46a2,2 0 1,0 4,0a2,2 0 1,0 -4,0zM332.64,58.54a2,2 0 1,0 4,0a2,2 0 1,0 -4,0zM342.72,28.3a2,2 0 1,0 4,0a2,2 0 1,0 -4,0zM342.72,38.38a2,2 0 1,0 4,0a2,2 0 1,0 -4,0zM342.72,48.46a2,2 0 1,0 4,0a2,2 0 1,0 -4,0zM342.72,58.54a2,2 0 1,0 4,0a2,2 0 1,0 -4,0zM352.8,28.3a2,2 0 1,0 4,0a2,2 0 1,0 -4,0zM352.8,38.38a2,2 0 1,0 4,0a2,2 0 1,0 -4,0zM352.8,48.46a2,2 0 1,0 4,0a2,2 0 1,0 -4,0zM352.8,58.54a2,2 0 1,0 4,0a2,2 0 1,0 -4,0zM362.88,28.3a2,2 0 1,0 4,0a2,2 0 1,0 -4,0zM362.88,38.38a2,2 0 1,0 4,0a2,2 0 1,0 -4,0zM362.88,48.46a2,2 0 1,0 4,0a2,2 0 1,0 -4,0zM362.88,58.54a2,2 0 1,0 4,0a2,2 0 1,0 -4,0zM312.48,653.26a2,2 0 1,0 4,0a2,2 0 1,0 -4,0zM312.48,663.34a2,2 0 1,0 4,0a2,2 0 1,0 -4,0zM312.48,673.42a2,2 0 1,0 4,0a2,2 0 1,0 -4,0zM312.48,683.5a2,2 0 1,0 4,0a2,2 0 1,0 -4,0zM322.56,653.26a2,2 0 1,0 4,0a2,2 0 1,0 -4,0zM322.56,663.34a2,2 0 1,0 4,0a2,2 0 1,0 -4,0zM322.56,673.42a2,2 0 1,0 4,0a2,2 0 1,0 -4,0zM322.56,683.5a2,2 0 1,0 4,0a2,2 0 1,0 -4,0zM332.64,653.26a2,2 0 1,0 4,0a2,2 0 1,0 -4,0zM332.64,663.34a2,2 0 1,0 4,0a2,2 0 1,0 -4,0zM332.64,673.42a2,2 0 1,0 4,0a2,2 0 1,0 -4,0zM332.64,683.5a2,2 0 1,0 4,0a2,2 0 1,0 -4,0zM342.72,653.26a2,2 0 1,0 4,0a2,2 0 1,0 -4,0zM342.72,663.34a2,2 0 1,0 4,0a2,2 0 1,0 -4,0zM342.72,673.42a2,2 0 1,0 4,0a2,2 0 1,0 -4,0zM342.72,683.5a2,2 0 1,0 4,0a2,2 0 1,0 -4,0zM30.24,320.62a2,2 0 1,0 4,0a2,2 0 1,0 -4,0zM30.24,330.7a2,2 0 1,0 4,0a2,2 0 1,0 -4,0zM30.24,340.78a2,2 0 1,0 4,0a2,2 0 1,0 -4,0zM30.24,350.86a2,2 0 1,0 4,0a2,2 0 1,0 -4,0zM40.32,320.62a2,2 0 1,0 4,0a2,2 0 1,0 -4,0zM40.32,330.7a2,2 0 1,0 4,0a2,2 0 1,0 -4,0zM40.32,340.78a2,2 0 1,0 4,0a2,2 0 1,0 -4,0zM40.32,350.86a2,2 0 1,0 4,0a2,2 0 1,0 -4,0zM50.4,320.62a2,2 0 1,0 4,0a2,2 0 1,0 -4,0zM50.4,330.7a2,2 0 1,0 4,0a2,2 0 1,0 -4,0zM50.4,340.78a2,2 0 1,0 4,0a2,2 0 1,0 -4,0zM50.4,350.86a2,2 0 1,0 4,0a2,2 0 1,0 -4,0zM60.48,320.62a2,2 0 1,0 4,0a2,2 0 1,0 -4,0zM60.48,330.7a2,2 0 1,0 4,0a2,2 0 1,0 -4,0zM60.48,340.78a2,2 0 1,0 4,0a2,2 0 1,0 -4,0zM60.48,350.86a2,2 0 1,0 4,0a2,2 0 1,0 -4,0zM665.28,310.54a2,2 0 1,0 4,0a2,2 0 1,0 -4,0zM665.28,320.62a2,2 0 1,0 4,0a2,2 0 1,0 -4,0zM665.28,330.7a2,2 0 1,0 4,0a2,2 0 1,0 -4,0zM665.28,340.78a2,2 0 1,0 4,0a2,2 0 1,0 -4,0zM675.36,310.54a2,2 0 1,0 4,0a2,2 0 1,0 -4,0zM675.36,320.62a2,2 0 1,0 4,0a2,2 0 1,0 -4,0zM675.36,330.7a2,2 0 1,0 4,0a2,2 0 1,0 -4,0zM675.36,340.78a2,2 0 1,0 4,0a2,2 0 1,0 -4,0zM685.44,310.54a2,2 0 1,0 4,0a2,2 0 1,0 -4,0zM685.44,320.62a2,2 0 1,0 4,0a2,2 0 1,0 -4,0zM685.44,330.7a2,2 0 1,0 4,0a2,2 0 1,0 -4,0zM685.44,340.78a2,2 0 1,0 4,0a2,2 0 1,0 -4,0zM383.04,28.3a2,2 0 1,0 4,0a2,2 0 1,0 -4,0zM383.04,38.38a2,2 0 1,0 4,0a2,2 0 1,0 -4,0zM383.04,48.46a2,2 0 1,0 4,0a2,2 0 1,0 -4,0zM383.04,58.54a2,2 0 1,0 4,0a2,2 0 1,0 -4,0zM393.12,28.3a2,2 0 1,0 4,0a2,2 0 1,0 -4,0zM393.12,38.38a2,2 0 1,0 4,0a2,2 0 1,0 -4,0zM393.12,48.46a2,2 0 1,0 4,0a2,2 0 1,0 -4,0zM393.12,58.54a2,2 0 1,0 4,0a2,2 0 1,0 -4,0zM403.2,28.3a2,2 0 1,0 4,0a2,2 0 1,0 -4,0zM403.2,38.38a2,2 0 1,0 4,0a2,2 0 1,0 -4,0zM403.2,48.46a2,2 0 1,0 4,0a2,2 0 1,0 -4,0zM403.2,58.54a2,2 0 1,0 4,0a2,2 0 1,0 -4,0zM413.28,28.3a2,2 0 1,0 4,0a2,2 0 1,0 -4,0zM413.28,38.38a2,2 0 1,0 4,0a2,2 0 1,0 -4,0zM413.28,48.46a2,2 0 1,0 4,0a2,2 0 1,0 -4,0zM413.28,58.54a2,2 0 1,0 4,0a2,2 0 1,0 -4,0zM362.88,653.26a2,2 0 1,0 4,0a2,2 0 1,0 -4,0zM362.88,663.34a2,2 0 1,0 4,0a2,2 0 1,0 -4,0zM362.88,673.42a2,2 0 1,0 4,0a2,2 0 1,0 -4,0zM362.88,683.5a2,2 0 1,0 4,0a2,2 0 1,0 -4,0zM372.96,653.26a2,2 0 1,0 4,0a2,2 0 1,0 -4,0zM372.96,663.34a2,2 0 1,0 4,0a2,2 0 1,0 -4,0zM372.96,673.42a2,2 0 1,0 4,0a2,2 0 1,0 -4,0zM372.96,683.5a2,2 0 1,0 4,0a2,2 0 1,0 -4,0zM383.04,653.26a2,2 0 1,0 4,0a2,2 0 1,0 -4,0zM383.04,663.34a2,2 0 1,0 4,0a2,2 0 1,0 -4,0zM383.04,673.42a2,2 0 1,0 4,0a2,2 0 1,0 -4,0zM383.04,683.5a2,2 0 1,0 4,0a2,2 0 1,0 -4,0zM393.12,653.26a2,2 0 1,0 4,0a2,2 0 1,0 -4,0zM393.12,663.34a2,2 0 1,0 4,0a2,2 0 1,0 -4,0zM393.12,673.42a2,2 0 1,0 4,0a2,2 0 1,0 -4,0zM393.12,683.5a2,2 0 1,0 4,0a2,2 0 1,0 -4,0zM30.24,360.94a2,2 0 1,0 4,0a2,2 0 1,0 -4,0zM30.24,371.02a2,2 0 1,0 4,0a2,2 0 1,0 -4,0zM30.24,381.1a2,2 0 1,0 4,0a2,2 0 1,0 -4,0zM30.24,391.18a2,2 0 1,0 4,0a2,2 0 1,0 -4,0zM30.24,401.26a2,2 0 1,0 4,0a2,2 0 1,0 -4,0zM40.32,360.94a2,2 0 1,0 4,0a2,2 0 1,0 -4,0zM40.32,371.02a2,2 0 1,0 4,0a2,2 0 1,0 -4,0zM40.32,381.1a2,2 0 1,0 4,0a2,2 0 1,0 -4,0zM40.32,391.18a2,2 0 1,0 4,0a2,2 0 1,0 -4,0zM40.32,401.26a2,2 0 1,0 4,0a2,2 0 1,0 -4,0zM50.4,360.94a2,2 0 1,0 4,0a2,2 0 1,0 -4,0zM50.4,371.02a2,2 0 1,0 4,0a2,2 0 1,0 -4,0zM50.4,381.1a2,2 0 1,0 4,0a2,2 0 1,0 -4,0zM50.4,391.18a2,2 0 1,0 4,0a2,2 0 1,0 -4,0zM50.4,401.26a2,2 0 1,0 4,0a2,2 0 1,0 -4,0zM60.48,360.94a2,2 0 1,0 4,0a2,2 0 1,0 -4,0zM60.48,371.02a2,2 0 1,0 4,0a2,2 0 1,0 -4,0zM60.48,381.1a2,2 0 1,0 4,0a2,2 0 1,0 -4,0zM60.48,391.18a2,2 0 1,0 4,0a2,2 0 1,0 -4,0zM60.48,401.26a2,2 0 1,0 4,0a2,2 0 1,0 -4,0zM665.28,350.86a2,2 0 1,0 4,0a2,2 0 1,0 -4,0zM665.28,360.94a2,2 0 1,0 4,0a2,2 0 1,0 -4,0zM665.28,371.02a2,2 0 1,0 4,0a2,2 0 1,0 -4,0zM665.28,381.1a2,2 0 1,0 4,0a2,2 0 1,0 -4,0zM665.28,391.18a2,2 0 1,0 4,0a2,2 0 1,0 -4,0zM675.36,350.86a2,2 0 1,0 4,0a2,2 0 1,0 -4,0zM675.36,360.94a2,2 0 1,0 4,0a2,2 0 1,0 -4,0zM675.36,371.02a2,2 0 1,0 4,0a2,2 0 1,0 -4,0zM675.36,381.1a2,2 0 1,0 4,0a2,2 0 1,0 -4,0zM675.36,391.18a2,2 0 1,0 4,0a2,2 0 1,0 -4,0zM685.44,350.86a2,2 0 1,0 4,0a2,2 0 1,0 -4,0zM685.44,360.94a2,2 0 1,0 4,0a2,2 0 1,0 -4,0zM685.44,371.02a2,2 0 1,0 4,0a2,2 0 1,0 -4,0zM685.44,381.1a2,2 0 1,0 4,0a2,2 0 1,0 -4,0zM685.44,391.18a2,2 0 1,0 4,0a2,2 0 1,0 -4,0zM423.36,28.3a2,2 0 1,0 4,0a2,2 0 1,0 -4,0zM423.36,38.38a2,2 0 1,0 4,0a2,2 0 1,0 -4,0zM423.36,48.46a2,2 0 1,0 4,0a2,2 0 1,0 -4,0zM423.36,58.54a2,2 0 1,0 4,0a2,2 0 1,0 -4,0zM433.44,28.3a2,2 0 1,0 4,0a2,2 0 1,0 -4,0zM433.44,38.38a2,2 0 1,0 4,0a2,2 0 1,0 -4,0zM433.44,48.46a2,2 0 1,0 4,0a2,2 0 1,0 -4,0zM433.44,58.54a2,2 0 1,0 4,0a2,2 0 1,0 -4,0zM443.52,28.3a2,2 0 1,0 4,0a2,2 0 1,0 -4,0zM443.52,38.38a2,2 0 1,0 4,0a2,2 0 1,0 -4,0zM443.52,48.46a2,2 0 1,0 4,0a2,2 0 1,0 -4,0zM443.52,58.54a2,2 0 1,0 4,0a2,2 0 1,0 -4,0zM453.6,28.3a2,2 0 1,0 4,0a2,2 0 1,0 -4,0zM453.6,38.38a2,2 0 1,0 4,0a2,2 0 1,0 -4,0zM453.6,48.46a2,2 0 1,0 4,0a2,2 0 1,0 -4,0zM453.6,58.54a2,2 0 1,0 4,0a2,2 0 1,0 -4,0zM403.2,653.26a2,2 0 1,0 4,0a2,2 0 1,0 -4,0zM403.2,663.34a2,2 0 1,0 4,0a2,2 0 1,0 -4,0zM403.2,673.42a2,2 0 1,0 4,0a2,2 0 1,0 -4,0zM403.2,683.5a2,2 0 1,0 4,0a2,2 0 1,0 -4,0zM413.28,653.26a2,2 0 1,0 4,0a2,2 0 1,0 -4,0zM413.28,663.34a2,2 0 1,0 4,0a2,2 0 1,0 -4,0zM413.28,673.42a2,2 0 1,0 4,0a2,2 0 1,0 -4,0zM413.28,683.5a2,2 0 1,0 4,0a2,2 0 1,0 -4,0zM423.36,653.26a2,2 0 1,0 4,0a2,2 0 1,0 -4,0zM423.36,663.34a2,2 0 1,0 4,0a2,2 0 1,0 -4,0zM423.36,673.42a2,2 0 1,0 4,0a2,2 0 1,0 -4,0zM423.36,683.5a2,2 0 1,0 4,0a2,2 0 1,0 -4,0zM433.44,653.26a2,2 0 1,0 4,0a2,2 0 1,0 -4,0zM433.44,663.34a2,2 0 1,0 4,0a2,2 0 1,0 -4,0zM433.44,673.42a2,2 0 1,0 4,0a2,2 0 1,0 -4,0zM433.44,683.5a2,2 0 1,0 4,0a2,2 0 1,0 -4,0zM30.24,411.34a2,2 0 1,0 4,0a2,2 0 1,0 -4,0zM30.24,421.42a2,2 0 1,0 4,0a2,2 0 1,0 -4,0zM30.24,431.5a2,2 0 1,0 4,0a2,2 0 1,0 -4,0zM30.24,441.58a2,2 0 1,0 4,0a2,2 0 1,0 -4,0zM40.32,411.34a2,2 0 1,0 4,0a2,2 0 1,0 -4,0zM40.32,421.42a2,2 0 1,0 4,0a2,2 0 1,0 -4,0zM40.32,431.5a2,2 0 1,0 4,0a2,2 0 1,0 -4,0zM40.32,441.58a2,2 0 1,0 4,0a2,2 0 1,0 -4,0zM50.4,411.34a2,2 0 1,0 4,0a2,2 0 1,0 -4,0zM50.4,421.42a2,2 0 1,0 4,0a2,2 0 1,0 -4,0zM50.4,431.5a2,2 0 1,0 4,0a2,2 0 1,0 -4,0zM50.4,441.58a2,2 0 1,0 4,0a2,2 0 1,0 -4,0zM60.48,411.34a2,2 0 1,0 4,0a2,2 0 1,0 -4,0zM60.48,421.42a2,2 0 1,0 4,0a2,2 0 1,0 -4,0zM60.48,431.5a2,2 0 1,0 4,0a2,2 0 1,0 -4,0zM60.48,441.58a2,2 0 1,0 4,0a2,2 0 1,0 -4,0zM665.28,401.26a2,2 0 1,0 4,0a2,2 0 1,0 -4,0zM665.28,411.34a2,2 0 1,0 4,0a2,2 0 1,0 -4,0zM665.28,421.42a2,2 0 1,0 4,0a2,2 0 1,0 -4,0zM665.28,431.5a2,2 0 1,0 4,0a2,2 0 1,0 -4,0zM675.36,401.26a2,2 0 1,0 4,0a2,2 0 1,0 -4,0zM675.36,411.34a2,2 0 1,0 4,0a2,2 0 1,0 -4,0zM675.36,421.42a2,2 0 1,0 4,0a2,2 0 1,0 -4,0zM675.36,431.5a2,2 0 1,0 4,0a2,2 0 1,0 -4,0zM685.44,401.26a2,2 0 1,0 4,0a2,2 0 1,0 -4,0zM685.44,411.34a2,2 0 1,0 4,0a2,2 0 1,0 -4,0zM685.44,421.42a2,2 0 1,0 4,0a2,2 0 1,0 -4,0zM685.44,431.5a2,2 0 1,0 4,0a2,2 0 1,0 -4,0zM463.68,28.3a2,2 0 1,0 4,0a2,2 0 1,0 -4,0zM463.68,38.38a2,2 0 1,0 4,0a2,2 0 1,0 -4,0zM463.68,48.46a2,2 0 1,0 4,0a2,2 0 1,0 -4,0zM463.68,58.54a2,2 0 1,0 4,0a2,2 0 1,0 -4,0zM473.76,28.3a2,2 0 1,0 4,0a2,2 0 1,0 -4,0zM473.76,38.38a2,2 0 1,0 4,0a2,2 0 1,0 -4,0zM473.76,48.46a2,2 0 1,0 4,0a2,2 0 1,0 -4,0zM473.76,58.54a2,2 0 1,0 4,0a2,2 0 1,0 -4,0zM483.84,28.3a2,2 0 1,0 4,0a2,2 0 1,0 -4,0zM483.84,38.38a2,2 0 1,0 4,0a2,2 0 1,0 -4,0zM483.84,48.46a2,2 0 1,0 4,0a2,2 0 1,0 -4,0zM483.84,58.54a2,2 0 1,0 4,0a2,2 0 1,0 -4,0zM493.92,28.3a2,2 0 1,0 4,0a2,2 0 1,0 -4,0zM493.92,38.38a2,2 0 1,0 4,0a2,2 0 1,0 -4,0zM493.92,48.46a2,2 0 1,0 4,0a2,2 0 1,0 -4,0zM493.92,58.54a2,2 0 1,0 4,0a2,2 0 1,0 -4,0zM504,28.3a2,2 0 1,0 4,0a2,2 0 1,0 -4,0zM504,38.38a2,2 0 1,0 4,0a2,2 0 1,0 -4,0zM504,48.46a2,2 0 1,0 4,0a2,2 0 1,0 -4,0zM504,58.54a2,2 0 1,0 4,0a2,2 0 1,0 -4,0zM453.6,653.26a2,2 0 1,0 4,0a2,2 0 1,0 -4,0zM453.6,663.34a2,2 0 1,0 4,0a2,2 0 1,0 -4,0zM453.6,673.42a2,2 0 1,0 4,0a2,2 0 1,0 -4,0zM453.6,683.5a2,2 0 1,0 4,0a2,2 0 1,0 -4,0zM463.68,653.26a2,2 0 1,0 4,0a2,2 0 1,0 -4,0zM463.68,663.34a2,2 0 1,0 4,0a2,2 0 1,0 -4,0zM463.68,673.42a2,2 0 1,0 4,0a2,2 0 1,0 -4,0zM463.68,683.5a2,2 0 1,0 4,0a2,2 0 1,0 -4,0zM473.76,653.26a2,2 0 1,0 4,0a2,2 0 1,0 -4,0zM473.76,663.34a2,2 0 1,0 4,0a2,2 0 1,0 -4,0zM473.76,673.42a2,2 0 1,0 4,0a2,2 0 1,0 -4,0zM473.76,683.5a2,2 0 1,0 4,0a2,2 0 1,0 -4,0zM483.84,653.26a2,2 0 1,0 4,0a2,2 0 1,0 -4,0zM483.84,663.34a2,2 0 1,0 4,0a2,2 0 1,0 -4,0zM483.84,673.42a2,2 0 1,0 4,0a2,2 0 1,0 -4,0zM483.84,683.5a2,2 0 1,0 4,0a2,2 0 1,0 -4,0zM30.24,461.74a2,2 0 1,0 4,0a2,2 0 1,0 -4,0zM30.24,471.82a2,2 0 1,0 4,0a2,2 0 1,0 -4,0zM30.24,481.9a2,2 0 1,0 4,0a2,2 0 1,0 -4,0zM30.24,491.98a2,2 0 1,0 4,0a2,2 0 1,0 -4,0zM40.32,461.74a2,2 0 1,0 4,0a2,2 0 1,0 -4,0zM40.32,471.82a2,2 0 1,0 4,0a2,2 0 1,0 -4,0zM40.32,481.9a2,2 0 1,0 4,0a2,2 0 1,0 -4,0zM40.32,491.98a2,2 0 1,0 4,0a2,2 0 1,0 -4,0zM50.4,461.74a2,2 0 1,0 4,0a2,2 0 1,0 -4,0zM50.4,471.82a2,2 0 1,0 4,0a2,2 0 1,0 -4,0zM50.4,481.9a2,2 0 1,0 4,0a2,2 0 1,0 -4,0zM50.4,491.98a2,2 0 1,0 4,0a2,2 0 1,0 -4,0zM60.48,461.74a2,2 0 1,0 4,0a2,2 0 1,0 -4,0zM60.48,471.82a2,2 0 1,0 4,0a2,2 0 1,0 -4,0zM60.48,481.9a2,2 0 1,0 4,0a2,2 0 1,0 -4,0zM60.48,491.98a2,2 0 1,0 4,0a2,2 0 1,0 -4,0zM665.28,441.58a2,2 0 1,0 4,0a2,2 0 1,0 -4,0zM665.28,451.66a2,2 0 1,0 4,0a2,2 0 1,0 -4,0zM665.28,461.74a2,2 0 1,0 4,0a2,2 0 1,0 -4,0zM665.28,471.82a2,2 0 1,0 4,0a2,2 0 1,0 -4,0zM675.36,441.58a2,2 0 1,0 4,0a2,2 0 1,0 -4,0zM675.36,451.66a2,2 0 1,0 4,0a2,2 0 1,0 -4,0zM675.36,461.74a2,2 0 1,0 4,0a2,2 0 1,0 -4,0zM675.36,471.82a2,2 0 1,0 4,0a2,2 0 1,0 -4,0zM685.44,441.58a2,2 0 1,0 4,0a2,2 0 1,0 -4,0zM685.44,451.66a2,2 0 1,0 4,0a2,2 0 1,0 -4,0zM685.44,461.74a2,2 0 1,0 4,0a2,2 0 1,0 -4,0zM685.44,471.82a2,2 0 1,0 4,0a2,2 0 1,0 -4,0zM514.08,28.3a2,2 0 1,0 4,0a2,2 0 1,0 -4,0zM514.08,38.38a2,2 0 1,0 4,0a2,2 0 1,0 -4,0zM514.08,48.46a2,2 0 1,0 4,0a2,2 0 1,0 -4,0zM514.08,58.54a2,2 0 1,0 4,0a2,2 0 1,0 -4,0zM524.16,28.3a2,2 0 1,0 4,0a2,2 0 1,0 -4,0zM524.16,38.38a2,2 0 1,0 4,0a2,2 0 1,0 -4,0zM524.16,48.46a2,2 0 1,0 4,0a2,2 0 1,0 -4,0zM524.16,58.54a2,2 0 1,0 4,0a2,2 0 1,0 -4,0zM534.24,28.3a2,2 0 1,0 4,0a2,2 0 1,0 -4,0zM534.24,38.38a2,2 0 1,0 4,0a2,2 0 1,0 -4,0zM534.24,48.46a2,2 0 1,0 4,0a2,2 0 1,0 -4,0zM534.24,58.54a2,2 0 1,0 4,0a2,2 0 1,0 -4,0zM544.32,28.3a2,2 0 1,0 4,0a2,2 0 1,0 -4,0zM544.32,38.38a2,2 0 1,0 4,0a2,2 0 1,0 -4,0zM544.32,48.46a2,2 0 1,0 4,0a2,2 0 1,0 -4,0zM544.32,58.54a2,2 0 1,0 4,0a2,2 0 1,0 -4,0zM493.92,653.26a2,2 0 1,0 4,0a2,2 0 1,0 -4,0zM493.92,663.34a2,2 0 1,0 4,0a2,2 0 1,0 -4,0zM493.92,673.42a2,2 0 1,0 4,0a2,2 0 1,0 -4,0zM493.92,683.5a2,2 0 1,0 4,0a2,2 0 1,0 -4,0zM504,653.26a2,2 0 1,0 4,0a2,2 0 1,0 -4,0zM504,663.34a2,2 0 1,0 4,0a2,2 0 1,0 -4,0zM504,673.42a2,2 0 1,0 4,0a2,2 0 1,0 -4,0zM504,683.5a2,2 0 1,0 4,0a2,2 0 1,0 -4,0zM514.08,653.26a2,2 0 1,0 4,0a2,2 0 1,0 -4,0zM514.08,663.34a2,2 0 1,0 4,0a2,2 0 1,0 -4,0zM514.08,673.42a2,2 0 1,0 4,0a2,2 0 1,0 -4,0zM514.08,683.5a2,2 0 1,0 4,0a2,2 0 1,0 -4,0zM524.16,653.26a2,2 0 1,0 4,0a2,2 0 1,0 -4,0zM524.16,663.34a2,2 0 1,0 4,0a2,2 0 1,0 -4,0zM524.16,673.42a2,2 0 1,0 4,0a2,2 0 1,0 -4,0zM524.16,683.5a2,2 0 1,0 4,0a2,2 0 1,0 -4,0zM30.24,502.06a2,2 0 1,0 4,0a2,2 0 1,0 -4,0zM30.24,512.14a2,2 0 1,0 4,0a2,2 0 1,0 -4,0zM30.24,522.22a2,2 0 1,0 4,0a2,2 0 1,0 -4,0zM30.24,532.3a2,2 0 1,0 4,0a2,2 0 1,0 -4,0zM40.32,502.06a2,2 0 1,0 4,0a2,2 0 1,0 -4,0zM40.32,512.14a2,2 0 1,0 4,0a2,2 0 1,0 -4,0zM40.32,522.22a2,2 0 1,0 4,0a2,2 0 1,0 -4,0zM40.32,532.3a2,2 0 1,0 4,0a2,2 0 1,0 -4,0zM50.4,502.06a2,2 0 1,0 4,0a2,2 0 1,0 -4,0zM50.4,512.14a2,2 0 1,0 4,0a2,2 0 1,0 -4,0zM50.4,522.22a2,2 0 1,0 4,0a2,2 0 1,0 -4,0zM50.4,532.3a2,2 0 1,0 4,0a2,2 0 1,0 -4,0zM60.48,502.06a2,2 0 1,0 4,0a2,2 0 1,0 -4,0zM60.48,512.14a2,2 0 1,0 4,0a2,2 0 1,0 -4,0zM60.48,522.22a2,2 0 1,0 4,0a2,2 0 1,0 -4,0zM60.48,532.3a2,2 0 1,0 4,0a2,2 0 1,0 -4,0zM665.28,491.98a2,2 0 1,0 4,0a2,2 0 1,0 -4,0zM665.28,502.06a2,2 0 1,0 4,0a2,2 0 1,0 -4,0zM665.28,512.14a2,2 0 1,0 4,0a2,2 0 1,0 -4,0zM665.28,522.22a2,2 0 1,0 4,0a2,2 0 1,0 -4,0zM675.36,491.98a2,2 0 1,0 4,0a2,2 0 1,0 -4,0zM675.36,502.06a2,2 0 1,0 4,0a2,2 0 1,0 -4,0zM675.36,512.14a2,2 0 1,0 4,0a2,2 0 1,0 -4,0zM675.36,522.22a2,2 0 1,0 4,0a2,2 0 1,0 -4,0zM685.44,491.98a2,2 0 1,0 4,0a2,2 0 1,0 -4,0zM685.44,502.06a2,2 0 1,0 4,0a2,2 0 1,0 -4,0zM685.44,512.14a2,2 0 1,0 4,0a2,2 0 1,0 -4,0zM685.44,522.22a2,2 0 1,0 4,0a2,2 0 1,0 -4,0zM564.48,28.3a2,2 0 1,0 4,0a2,2 0 1,0 -4,0zM564.48,38.38a2,2 0 1,0 4,0a2,2 0 1,0 -4,0zM564.48,48.46a2,2 0 1,0 4,0a2,2 0 1,0 -4,0zM564.48,58.54a2,2 0 1,0 4,0a2,2 0 1,0 -4,0zM574.56,28.3a2,2 0 1,0 4,0a2,2 0 1,0 -4,0zM574.56,38.38a2,2 0 1,0 4,0a2,2 0 1,0 -4,0zM574.56,48.46a2,2 0 1,0 4,0a2,2 0 1,0 -4,0zM574.56,58.54a2,2 0 1,0 4,0a2,2 0 1,0 -4,0zM584.64,28.3a2,2 0 1,0 4,0a2,2 0 1,0 -4,0zM584.64,38.38a2,2 0 1,0 4,0a2,2 0 1,0 -4,0zM584.64,48.46a2,2 0 1,0 4,0a2,2 0 1,0 -4,0zM584.64,58.54a2,2 0 1,0 4,0a2,2 0 1,0 -4,0zM594.72,28.3a2,2 0 1,0 4,0a2,2 0 1,0 -4,0zM594.72,38.38a2,2 0 1,0 4,0a2,2 0 1,0 -4,0zM594.72,48.46a2,2 0 1,0 4,0a2,2 0 1,0 -4,0zM594.72,58.54a2,2 0 1,0 4,0a2,2 0 1,0 -4,0zM544.32,653.26a2,2 0 1,0 4,0a2,2 0 1,0 -4,0zM544.32,663.34a2,2 0 1,0 4,0a2,2 0 1,0 -4,0zM544.32,673.42a2,2 0 1,0 4,0a2,2 0 1,0 -4,0zM544.32,683.5a2,2 0 1,0 4,0a2,2 0 1,0 -4,0zM554.4,653.26a2,2 0 1,0 4,0a2,2 0 1,0 -4,0zM554.4,663.34a2,2 0 1,0 4,0a2,2 0 1,0 -4,0zM554.4,673.42a2,2 0 1,0 4,0a2,2 0 1,0 -4,0zM554.4,683.5a2,2 0 1,0 4,0a2,2 0 1,0 -4,0zM564.48,653.26a2,2 0 1,0 4,0a2,2 0 1,0 -4,0zM564.48,663.34a2,2 0 1,0 4,0a2,2 0 1,0 -4,0zM564.48,673.42a2,2 0 1,0 4,0a2,2 0 1,0 -4,0zM564.48,683.5a2,2 0 1,0 4,0a2,2 0 1,0 -4,0zM574.56,653.26a2,2 0 1,0 4,0a2,2 0 1,0 -4,0zM574.56,663.34a2,2 0 1,0 4,0a2,2 0 1,0 -4,0zM574.56,673.42a2,2 0 1,0 4,0a2,2 0 1,0 -4,0zM574.56,683.5a2,2 0 1,0 4,0a2,2 0 1,0 -4,0zM30.24,552.46a2,2 0 1,0 4,0a2,2 0 1,0 -4,0zM30.24,562.54a2,2 0 1,0 4,0a2,2 0 1,0 -4,0zM30.24,572.62a2,2 0 1,0 4,0a2,2 0 1,0 -4,0zM30.24,582.7a2,2 0 1,0 4,0a2,2 0 1,0 -4,0zM40.32,552.46a2,2 0 1,0 4,0a2,2 0 1,0 -4,0zM40.32,562.54a2,2 0 1,0 4,0a2,2 0 1,0 -4,0zM40.32,572.62a2,2 0 1,0 4,0a2,2 0 1,0 -4,0zM40.32,582.7a2,2 0 1,0 4,0a2,2 0 1,0 -4,0zM50.4,552.46a2,2 0 1,0 4,0a2,2 0 1,0 -4,0zM50.4,562.54a2,2 0 1,0 4,0a2,2 0 1,0 -4,0zM50.4,572.62a2,2 0 1,0 4,0a2,2 0 1,0 -4,0zM50.4,582.7a2,2 0 1,0 4,0a2,2 0 1,0 -4,0zM60.48,552.46a2,2 0 1,0 4,0a2,2 0 1,0 -4,0zM60.48,562.54a2,2 0 1,0 4,0a2,2 0 1,0 -4,0zM60.48,572.62a2,2 0 1,0 4,0a2,2 0 1,0 -4,0zM60.48,582.7a2,2 0 1,0 4,0a2,2 0 1,0 -4,0zM665.28,532.3a2,2 0 1,0 4,0a2,2 0 1,0 -4,0zM665.28,542.38a2,2 0 1,0 4,0a2,2 0 1,0 -4,0zM665.28,552.46a2,2 0 1,0 4,0a2,2 0 1,0 -4,0zM665.28,562.54a2,2 0 1,0 4,0a2,2 0 1,0 -4,0zM665.28,572.62a2,2 0 1,0 4,0a2,2 0 1,0 -4,0zM675.36,532.3a2,2 0 1,0 4,0a2,2 0 1,0 -4,0zM675.36,542.38a2,2 0 1,0 4,0a2,2 0 1,0 -4,0zM675.36,552.46a2,2 0 1,0 4,0a2,2 0 1,0 -4,0zM675.36,562.54a2,2 0 1,0 4,0a2,2 0 1,0 -4,0zM675.36,572.62a2,2 0 1,0 4,0a2,2 0 1,0 -4,0zM685.44,532.3a2,2 0 1,0 4,0a2,2 0 1,0 -4,0zM685.44,542.38a2,2 0 1,0 4,0a2,2 0 1,0 -4,0zM685.44,552.46a2,2 0 1,0 4,0a2,2 0 1,0 -4,0zM685.44,562.54a2,2 0 1,0 4,0a2,2 0 1,0 -4,0zM685.44,572.62a2,2 0 1,0 4,0a2,2 0 1,0 -4,0z" fill="none" stroke="#505050" stroke-width="2.1"/></g>
<circle cx="168.8" cy="39.55" r="0.9" fill="#dc55ff"/>
<circle cx="151.1" cy="667.15" r="0.9" fill="#dc55ff"/>
<circle cx="49.55" cy="155.5" r="0.9" fill="#dc55ff"/>
<circle cx="677.65" cy="143.65" r="0.9" fill="#dc55ff"/>
<circle cx="214.4" cy="39.55" r="0.9" fill="#dc55ff"/>
<circle cx="196.6" cy="667.15" r="0.9" fill="#dc55ff"/>
<circle cx="49.55" cy="200.2" r="0.9" fill="#dc55ff"/>
<circle cx="677.65" cy="188.95" r="0.9" fill="#dc55ff"/>
<circle cx="259.5" cy="39.55" r="0.9" fill="#dc55ff"/>
<circle cx="242.3" cy="667.15" r="0.9" fill="#dc55ff"/>
<circle cx="49.55" cy="245.7" r="0.9" fill="#dc55ff"/>
<circle cx="677.65" cy="234.15" r="0.9" fill="#dc55ff"/>
<circle cx="305.3" cy="39.55" r="0.9" fill="#dc55ff"/>
<circle cx="287.4" cy="667.15" r="0.9" fill="#dc55ff"/>
<circle cx="49.55" cy="291.5" r="0.9" fill="#dc55ff"/>
<circle cx="677.65" cy="278.55" r="0.9" fill="#dc55ff"/>
<circle cx="350.7" cy="39.55" r="0.9" fill="#dc55ff"/>
<circle cx="332.9" cy="667.15" r="0.9" fill="#dc55ff"/>
<circle cx="49.55" cy="336" r="0.9" fill="#dc55ff"/>
<circle cx="677.65" cy="324.85" r="0.9" fill="#dc55ff"/>
<circle cx="395.9" cy="39.55" r="0.9" fill="#dc55ff"/>
<circle cx="378.1" cy="667.15" r="0.9" fill="#dc55ff"/>
<circle cx="49.55" cy="381.5" r="0.9" fill="#dc55ff"/>
<circle cx="677.65" cy="370.75" r="0.9" fill="#dc55ff"/>
<circle cx="441" cy="39.55" r="0.9" fill="#dc55ff"/>
<circle cx="423.6" cy="667.15" r="0.9" fill="#dc55ff"/>
<circle cx="49.55" cy="427.5" r="0.9" fill="#dc55ff"/>
<circle cx="677.65" cy="414.85" r="0.9" fill="#dc55ff"/>
<circle cx="486.2" cy="39.55" r="0.9" fill="#dc55ff"/>
<circle cx="468.9" cy="667.15" r="0.9" fill="#dc55ff"/>
<circle cx="49.55" cy="473" r="0.9" fill="#dc55ff"/>
<circle cx="677.65" cy="460.25" r="0.9" fill="#dc55ff"/>
<circle cx="532" cy="39.55" r="0.9" fill="#dc55ff"/>
<circle cx="514" cy="667.15" r="0.9" fill="#dc55ff"/>
<circle cx="49.55" cy="517.6" r="0.9" fill="#dc55ff"/>
<circle cx="677.65" cy="507.05" r="0.9" fill="#dc55ff"/>
<circle cx="577.5" cy="39.55" r="0.9" fill="#dc55ff"/>
<circle cx="558.4" cy="667.15" r="0.9" fill="#dc55ff"/>
<circle cx="49.55" cy="563.3" r="0.9" fill="#dc55ff"/>
<circle cx="677.65" cy="551.85" r="0.9" fill="#dc55ff"/>
<rect x="166" y="56.3" width="5.1" height="40.7" fill="#dc55ff"/>
<rect x="166" y="60.6" width="5.1" height="12.6" fill="#b98769"/>
<rect x="166" y="78" width="5.1" height="12.7" fill="#b98769"/>
<rect x="166" y="60.6" width="5.1" height="12.6" fill="url(#dots)"/>
<rect x="166" y="78" width="5.1" height="12.7" fill="url(#hatch)"/>
<rect x="171.1" y="60.3" width="12.3" height="11.6" fill="#52cdff"/>
<rect x="171.1" y="57" width="6.9" height="3.3" fill="#52cdff"/>
<rect x="171.8" y="59.1" width="4.2" height="1.2" fill="#ffffff"/>
<rect x="183.4" y="60.3" width="1.7" height="11.8" fill="#78c050"/>
<rect x="173.5" y="63" width="1.7" height="6.3" fill="#64463c"/>
<rect x="178.9" y="63" width="1.7" height="6.3" fill="#64463c"/>
<rect x="173.5" y="67.6" width="7.1" height="1.7" fill="#64463c"/>
<rect x="185.3" y="60.2" width="2.9" height="11.9" fill="#dc55ff"/>
<rect x="171.6" y="77.9" width="13.6" height="11.5" fill="#52cdff"/>
<rect x="171.1" y="74.3" width="7.9" height="3.6" fill="#52cdff"/>
<rect x="171.8" y="76.4" width="4.4" height="1.3" fill="#ffffff"/>
<rect x="174.5" y="80.7" width="1.7" height="6.3" fill="#64463c"/>
<rect x="179.9" y="80.7" width="1.7" height="6.3" fill="#64463c"/>
<rect x="174.5" y="85.3" width="7.1" height="1.7" fill="#64463c"/>
<rect x="185.5" y="77.1" width="2.7" height="13.4" fill="#dc55ff"/>
<rect x="148.8" y="609.7" width="5.1" height="40.7" fill="#dc55ff"/>
<rect x="148.8" y="633.5" width="5.1" height="12.6" fill="#b98769"/>
<rect x="148.8" y="616" width="5.1" height="12.7" fill="#b98769"/>
<rect x="148.8" y="633.5" width="5.1" height="12.6" fill="url(#dots)"/>
<rect x="148.8" y="616" width="5.1" height="12.7" fill="url(#hatch)"/>
<rect x="136.5" y="634.8" width="12.3" height="11.6" fill="#52cdff"/>
<rect x="141.9" y="646.4" width="6.9" height="3.3" fill="#52cdff"/>
<rect x="143.9" y="646.4" width="4.2" height="1.2" fill="#ffffff"/>
<rect x="134.8" y="634.6" width="1.7" height="11.8" fill="#78c050"/>
<rect x="144.7" y="637.4" width="1.7" height="6.3" fill="#64463c"/>
<rect x="139.3" y="637.4" width="1.7" height="6.3" fill="#64463c"/>
<rect x="139.3" y="637.4" width="7.1" height="1.7" fill="#64463c"/>
<rect x="131.7" y="634.6" width="2.9" height="11.9" fill="#dc55ff"/>
<rect x="134.7" y="617.3" width="13.6" height="11.5" fill="#52cdff"/>
<rect x="140.9" y="628.8" width="7.9" height="3.6" fill="#52cdff"/>
<rect x="143.7" y="629" width="4.4" height="1.3" fill="#ffffff"/>
<rect x="143.7" y="619.7" width="1.7" height="6.3" fill="#64463c"/>
<rect x="138.3" y="619.7" width="1.7" height="6.3" fill="#64463c"/>
<rect x="138.3" y="619.7" width="7.1" height="1.7" fill="#64463c"/>
<rect x="131.7" y="616.2" width="2.7" height="13.4" fill="#dc55ff"/>
<rect x="66.3" y="153.2" width="40.7" height="5.1" fill="#dc55ff"/>
<rect x="70.6" y="153.2" width="12.6" height="5.1" fill="#b98769"/>
<rect x="88" y="153.2" width="12.7" height="5.1" fill="#b98769"/>
<rect x="70.6" y="153.2" width="12.6" height="5.1" fill="url(#dots)"/>
<rect x="88" y="153.2" width="12.7" height="5.1" fill="url(#hatch)"/>
<rect x="70.3" y="140.9" width="11.6" height="12.3" fill="#52cdff"/>
<rect x="67" y="146.3" width="3.3" height="6.9" fill="#52cdff"/>
<rect x="69.1" y="148.3" width="1.2" height="4.2" fill="#ffffff"/>
<rect x="70.3" y="139.2" width="11.8" height="1.7" fill="#78c050"/>
<rect x="73" y="149.1" width="6.3" height="1.7" fill="#64463c"/>
<rect x="73" y="143.7" width="6.3" height="1.7" fill="#64463c"/>
<rect x="77.6" y="143.7" width="1.7" height="7.1" fill="#64463c"/>
<rect x="70.2" y="136.1" width="11.9" height="2.9" fill="#dc55ff"/>
<rect x="87.9" y="139.1" width="11.5" height="13.6" fill="#52cdff"/>
<rect x="84.3" y="145.3" width="3.6" height="7.9" fill="#52cdff"/>
<rect x="86.4" y="148.1" width="1.3" height="4.4" fill="#ffffff"/>
<rect x="90.7" y="148.1" width="6.3" height="1.7" fill="#64463c"/>
<rect x="90.7" y="142.7" width="6.3" height="1.7" fill="#64463c"/>
<rect x="95.3" y="142.7" width="1.7" height="7.1" fill="#64463c"/>
<rect x="87.1" y="136.1" width="13.4" height="2.7" fill="#dc55ff"/>
<rect x="620.5" y="140.85" width="40.7" height="5.1" fill="#dc55ff"/>
<rect x="644.3" y="140.85" width="12.6" height="5.1" fill="#b98769"/>
<rect x="626.8" y="140.85" width="12.7" height="5.1" fill="#b98769"/>
<rect x="644.3" y="140.85" width="12.6" height="5.1" fill="url(#dots)"/>
<rect x="626.8" y="140.85" width="12.7" height="5.1" fill="url(#hatch)"/>
<rect x="645.6" y="145.95" width="11.6" height="12.3" fill="#52cdff"/>
<rect x="657.2" y="145.95" width="3.3" height="6.9" fill="#52cdff"/>
<rect x="657.2" y="146.65" width="1.2" height="4.2" fill="#ffffff"/>
<rect x="645.4" y="158.25" width="11.8" height="1.7" fill="#78c050"/>
<rect x="648.2" y="148.35" width="6.3" height="1.7" fill="#64463c"/>
<rect x="648.2" y="153.75" width="6.3" height="1.7" fill="#64463c"/>
<rect x="648.2" y="148.35" width="1.7" height="7.1" fill="#64463c"/>
<rect x="645.4" y="160.15" width="11.9" height="2.9" fill="#dc55ff"/>
<rect x="628.1" y="146.45" width="11.5" height="13.6" fill="#52cdff"/>
<rect x="639.6" y="145.95" width="3.6" height="7.9" fill="#52cdff"/>
<rect x="639.8" y="146.65" width="1.3" height="4.4" fill="#ffffff"/>
<rect x="630.5" y="149.35" width="6.3" height="1.7" fill="#64463c"/>
<rect x="630.5" y="154.75" width="6.3" height="1.7" fill="#64463c"/>
<rect x="630.5" y="149.35" width="1.7" height="7.1" fill="#64463c"/>
<rect x="627" y="160.35" width="13.4" height="2.7" fill="#dc55ff"/>
<rect x="211.6" y="56.3" width="5.1" height="40.7" fill="#dc55ff"/>
<rect x="211.6" y="60.6" width="5.1" height="12.6" fill="#b98769"/>
<rect x="211.6" y="78" width="5.1" height="12.7" fill="#b98769"/>
<rect x="211.6" y="60.6" width="5.1" height="12.6" fill="url(#dots)"/>
<rect x="211.6" y="78" width="5.1" height="12.7" fill="url(#hatch)"/>
<rect x="216.7" y="60.3" width="12.3" height="11.6" fill="#52cdff"/>
<rect x="216.7" y="57" width="6.9" height="3.3" fill="#52cdff"/>
<rect x="217.4" y="59.1" width="4.2" height="1.2" fill="#ffffff"/>
<rect x="229" y="60.3" width="1.7" height="11.8" fill="#78c050"/>
<rect x="219.1" y="63" width="1.7" height="6.3" fill="#64463c"/>
<rect x="224.5" y="63" width="1.7" height="6.3" fill="#64463c"/>
<rect x="219.1" y="67.6" width="7.1" height="1.7" fill="#64463c"/>
<rect x="230.9" y="60.2" width="2.9" height="11.9" fill="#dc55ff"/>
<rect x="217.2" y="77.9" width="13.6" height="11.5" fill="#52cdff"/>
<rect x="216.7" y="74.3" width="7.9" height="3.6" fill="#52cdff"/>
<rect x="217.4" y="76.4" width="4.4" height="1.3" fill="#ffffff"/>
<rect x="220.1" y="80.7" width="1.7" height="6.3" fill="#64463c"/>
<rect x="225.5" y="80.7" width="1.7" height="6.3" fill="#64463c"/>
<rect x="220.1" y="85.3" width="7.1" height="1.7" fill="#64463c"/>
<rect x="231.1" y="77.1" width="2.7" height="13.4" fill="#dc55ff"/>
<rect x="194.3" y="609.7" width="5.1" height="40.7" fill="#dc55ff"/>
<rect x="194.3" y="633.5" width="5.1" height="12.6" fill="#b98769"/>
<rect x="194.3" y="616" width="5.1" height="12.7" fill="#b98769"/>
<rect x="194.3" y="633.5" width="5.1" height="12.6" fill="url(#dots)"/>
<rect x="194.3" y="616" width="5.1" height="12.7" fill="url(#hatch)"/>
<rect x="182" y="634.8" width="12.3" height="11.6" fill="#52cdff"/>
<rect x="187.4" y="646.4" width="6.9" height="3.3" fill="#52cdff"/>
<rect x="189.4" y="646.4" width="4.2" height="1.2" fill="#ffffff"/>
<rect x="180.3" y="634.6" width="1.7" height="11.8" fill="#78c050"/>
<rect x="190.2" y="637.4" width="1.7" height="6.3" fill="#64463c"/>
<rect x="184.8" y="637.4" width="1.7" height="6.3" fill="#64463c"/>
<rect x="184.8" y="637.4" width="7.1" height="1.7" fill="#64463c"/>
<rect x="177.2" y="634.6" width="2.9" height="11.9" fill="#dc55ff"/>
<rect x="180.2" y="617.3" width="13.6" height="11.5" fill="#52cdff"/>
<rect x="186.4" y="628.8" width="7.9" height="3.6" fill="#52cdff"/>
<rect x="189.2" y="629" width="4.4" height="1.3" fill="#ffffff"/>
<rect x="189.2" y="619.7" width="1.7" height="6.3" fill="#64463c"/>
<rect x="183.8" y="619.7" width="1.7" height="6.3" fill="#64463c"/>
<rect x="183.8" y="619.7" width="7.1" height="1.7" fill="#64463c"/>
<rect x="177.2" y="616.2" width="2.7" height="13.4" fill="#dc55ff"/>
<rect x="66.3" y="197.9" width="40.7" height="5.1" fill="#dc55ff"/>
<rect x="70.6" y="197.9" width="12.6" height="5.1" fill="#b98769"/>
<rect x="88" y="197.9" width="12.7" height="5.1" fill="#b98769"/>
<rect x="70.6" y="197.9" width="12.6" height="5.1" fill="url(#dots)"/>
<rect x="88" y="197.9" width="12.7" height="5.1" fill="url(#hatch)"/>
<rect x="70.3" y="185.6" width="11.6" height="12.3" fill="#52cdff"/>
<rect x="67" y="191" width="3.3" height="6.9" fill="#52cdff"/>
<rect x="69.1" y="193" width="1.2" height="4.2" fill="#ffffff"/>
<rect x="70.3" y="183.9" width="11.8" height="1.7" fill="#78c050"/>
<rect x="73" y="193.8" width="6.3" height="1.7" fill="#64463c"/>
<rect x="73" y="188.4" width="6.3" height="1.7" fill="#64463c"/>
<rect x="77.6" y="188.4" width="1.7" height="7.1" fill="#64463c"/>
<rect x="70.2" y="180.8" width="11.9" height="2.9" fill="#dc55ff"/>
<rect x="87.9" y="183.8" width="11.5" height="13.6" fill="#52cdff"/>
<rect x="84.3" y="190" width="3.6" height="7.9" fill="#52cdff"/>
<rect x="86.4" y="192.8" width="1.3" height="4.4" fill="#ffffff"/>
<rect x="90.7" y="192.8" width="6.3" height="1.7" fill="#64463c"/>
<rect x="90.7" y="187.4" width="6.3" height="1.7" fill="#64463c"/>
<rect x="95.3" y="187.4" width="1.7" height="7.1" fill="#64463c"/>
<rect x="87.1" y="180.8" width="13.4" height="2.7" fill="#dc55ff"/>
<rect x="620.5" y="186.15" width="40.7" height="5.1" fill="#dc55ff"/>
<rect x="644.3" y="186.15" width="12.6" height="5.1" fill="#b98769"/>
<rect x="626.8" y="186.15" width="12.7" height="5.1" fill="#b98769"/>
<rect x="644.3" y="186.15" width="12.6" height="5.1" fill="url(#dots)"/>
<rect x="626.8" y="186.15" width="12.7" height="5.1" fill="url(#hatch)"/>
<rect x="645.6" y="191.25" width="11.6" height="12.3" fill="#52cdff"/>
<rect x="657.2" y="191.25" width="3.3" height="6.9" fill="#52cdff"/>
<rect x="657.2" y="191.95" width="1.2" height="4.2" fill="#ffffff"/>
<rect x="645.4" y="203.55" width="11.8" height="1.7" fill="#78c050"/>
<rect x="648.2" y="193.65" width="6.3" height="1.7" fill="#64463c"/>
<rect x="648.2" y="199.05" width="6.3" height="1.7" fill="#64463c"/>
<rect x="648.2" y="193.65" width="1.7" height="7.1" fill="#64463c"/>
<rect x="645.4" y="205.45" width="11.9" height="2.9" fill="#dc55ff"/>
<rect x="628.1" y="191.75" width="11.5" height="13.6" fill="#52cdff"/>
<rect x="639.6" y="191.25" width="3.6" height="7.9" fill="#52cdff"/>
<rect x="639.8" y="191.95" width="1.3" height="4.4" fill="#ffffff"/>
<rect x="630.5" y="194.65" width="6.3" height="1.7" fill="#64463c"/>
<rect x="630.5" y="200.05" width="6.3" height="1.7" fill="#64463c"/>
<rect x="630.5" y="194.65" width="1.7" height="7.1" fill="#64463c"/>
<rect x="627" y="205.65" width="13.4" height="2.7" fill="#dc55ff"/>
<rect x="256.7" y="56.3" width="5.1" height="40.7" fill="#dc55ff"/>
<rect x="256.7" y="60.6" width="5.1" height="12.6" fill="#b98769"/>
<rect x="256.7" y="78" width="5.1" height="12.7" fill="#b98769"/>
<rect x="256.7" y="60.6" width="5.1" height="12.6" fill="url(#dots)"/>
<rect x="256.7" y="78" width="5.1" height="12.7" fill="url(#hatch)"/>
<rect x="261.8" y="60.3" width="12.3" height="11.6" fill="#52cdff"/>
<rect x="261.8" y="57" width="6.9" height="3.3" fill="#52cdff"/>
<rect x="262.5" y="59.1" width="4.2" height="1.2" fill="#ffffff"/>
<rect x="274.1" y="60.3" width="1.7" height="11.8" fill="#78c050"/>
<rect x="264.2" y="63" width="1.7" height="6.3" fill="#64463c"/>
<rect x="269.6" y="63" width="1.7" height="6.3" fill="#64463c"/>
<rect x="264.2" y="67.6" width="7.1" height="1.7" fill="#64463c"/>
<rect x="276" y="60.2" width="2.9" height="11.9" fill="#dc55ff"/>
<rect x="262.3" y="77.9" width="13.6" height="11.5" fill="#52cdff"/>
<rect x="261.8" y="74.3" width="7.9" height="3.6" fill="#52cdff"/>
<rect x="262.5" y="76.4" width="4.4" height="1.3" fill="#ffffff"/>
<rect x="265.2" y="80.7" width="1.7" height="6.3" fill="#64463c"/>
<rect x="270.6" y="80.7" width="1.7" height="6.3" fill="#64463c"/>
<rect x="265.2" y="85.3" width="7.1" height="1.7" fill="#64463c"/>
<rect x="276.2" y="77.1" width="2.7" height="13.4" fill="#dc55ff"/>
<rect x="240" y="609.7" width="5.1" height="40.7" fill="#dc55ff"/>
<rect x="240" y="633.5" width="5.1" height="12.6" fill="#b98769"/>
<rect x="240" y="616" width="5.1" height="12.7" fill="#b98769"/>
<rect x="240" y="633.5" width="5.1" height="12.6" fill="url(#dots)"/>
<rect x="240" y="616" width="5.1" height="12.7" fill="url(#hatch)"/>
<rect x="227.7" y="634.8" width="12.3" height="11.6" fill="#52cdff"/>
<rect x="233.1" y="646.4" width="6.9" height="3.3" fill="#52cdff"/>
<rect x="235.1" y="646.4" width="4.2" height="1.2" fill="#ffffff"/>
<rect x="226" y="634.6" width="1.7" height="11.8" fill="#78c050"/>
<rect x="235.9" y="637.4" width="1.7" height="6.3" fill="#64463c"/>
<rect x="230.5" y="637.4" width="1.7" height="6.3" fill="#64463c"/>
<rect x="230.5" y="637.4" width="7.1" height="1.7" fill="#64463c"/>
<rect x="222.9" y="634.6" width="2.9" height="11.9" fill="#dc55ff"/>
<rect x="225.9" y="617.3" width="13.6" height="11.5" fill="#52cdff"/>
<rect x="232.1" y="628.8" width="7.9" height="3.6" fill="#52cdff"/>
<rect x="234.9" y="629" width="4.4" height="1.3" fill="#ffffff"/>
<rect x="234.9" y="619.7" width="1.7" height="6.3" fill="#64463c"/>
<rect x="229.5" y="619.7" width="1.7" height="6.3" fill="#64463c"/>
<rect x="229.5" y="619.7" width="7.1" height="1.7" fill="#64463c"/>
<rect x="222.9" y="616.2" width="2.7" height="13.4" fill="#dc55ff"/>
<rect x="66.3" y="243.4" width="40.7" height="5.1" fill="#dc55ff"/>
<rect x="70.6" y="243.4" width="12.6" height="5.1" fill="#b98769"/>
<rect x="88" y="243.4" width="12.7" height="5.1" fill="#b98769"/>
<rect x="70.6" y="243.4" width="12.6" height="5.1" fill="url(#dots)"/>
<rect x="88" y="243.4" width="12.7" height="5.1" fill="url(#hatch)"/>
<rect x="70.3" y="231.1" width="11.6" height="12.3" fill="#52cdff"/>
<rect x="67" y="236.5" width="3.3" height="6.9" fill="#52cdff"/>
<rect x="69.1" y="238.5" width="1.2" height="4.2" fill="#ffffff"/>
<rect x="70.3" y="229.4" width="11.8" height="1.7" fill="#78c050"/>
<rect x="73" y="239.3" width="6.3" height="1.7" fill="#64463c"/>
<rect x="73" y="233.9" width="6.3" height="1.7" fill="#64463c"/>
<rect x="77.6" y="233.9" width="1.7" height="7.1" fill="#64463c"/>
<rect x="70.2" y="226.3" width="11.9" height="2.9" fill="#dc55ff"/>
<rect x="87.9" y="229.3" width="11.5" height="13.6" fill="#52cdff"/>
<rect x="84.3" y="235.5" width="3.6" height="7.9" fill="#52cdff"/>
<rect x="86.4" y="238.3" width="1.3" height="4.4" fill="#ffffff"/>
<rect x="90.7" y="238.3" width="6.3" height="1.7" fill="#64463c"/>
<rect x="90.7" y="232.9" width="6.3" height="1.7" fill="#64463c"/>
<rect x="95.3" y="232.9" width="1.7" height="7.1" fill="#64463c"/>
<rect x="87.1" y="226.3" width="13.4" height="2.7" fill="#dc55ff"/>
<rect x="620.5" y="231.35" width="40.7" height="5.1" fill="#dc55ff"/>
<rect x="644.3" y="231.35" width="12.6" height="5.1" fill="#b98769"/>
<rect x="626.8" y="231.35" width="12.7" height="5.1" fill="#b98769"/>
<rect x="644.3" y="231.35" width="12.6" height="5.1" fill="url(#dots)"/>
<rect x="626.8" y="231.35" width="12.7" height="5.1" fill="url(#hatch)"/>
<rect x="645.6" y="236.45" width="11.6" height="12.3" fill="#52cdff"/>
<rect x="657.2" y="236.45" width="3.3" height="6.9" fill="#52cdff"/>
<rect x="657.2" y="237.15" width="1.2" height="4.2" fill="#ffffff"/>
<rect x="645.4" y="248.75" width="11.8" height="1.7" fill="#78c050"/>
<rect x="648.2" y="238.85" width="6.3" height="1.7" fill="#64463c"/>
<rect x="648.2" y="244.25" width="6.3" height="1.7" fill="#64463c"/>
<rect x="648.2" y="238.85" width="1.7" height="7.1" fill="#64463c"/>
<rect x="645.4" y="250.65" width="11.9" height="2.9" fill="#dc55ff"/>
<rect x="628.1" y="236.95" width="11.5" height="13.6" fill="#52cdff"/>
<rect x="639.6" y="236.45" width="3.6" height="7.9" fill="#52cdff"/>
<rect x="639.8" y="237.15" width="1.3" height="4.4" fill="#ffffff"/>
<rect x="630.5" y="239.85" width="6.3" height="1.7" fill="#64463c"/>
<rect x="630.5" y="245.25" width="6.3" height="1.7" fill="#64463c"/>
<rect x="630.5" y="239.85" width="1.7" height="7.1" fill="#64463c"/>
<rect x="627" y="250.85" width="13.4" height="2.7" fill="#dc55ff"/>
<rect x="302.5" y="56.3" width="5.1" height="40.7" fill="#dc55ff"/>
<rect x="302.5" y="60.6" width="5.1" height="12.6" fill="#b98769"/>
<rect x="302.5" y="78" width="5.1" height="12.7" fill="#b98769"/>
<rect x="302.5" y="60.6" width="5.1" height="12.6" fill="url(#dots)"/>
<rect x="302.5" y="78" width="5.1" height="12.7" fill="url(#hatch)"/>
<rect x="307.6" y="60.3" width="12.3" height="11.6" fill="#52cdff"/>
<rect x="307.6" y="57" width="6.9" height="3.3" fill="#52cdff"/>
<rect x="308.3" y="59.1" width="4.2" height="1.2" fill="#ffffff"/>
<rect x="319.9" y="60.3" width="1.7" height="11.8" fill="#78c050"/>
<rect x="310" y="63" width="1.7" height="6.3" fill="#64463c"/>
<rect x="315.4" y="63" width="1.7" height="6.3" fill="#64463c"/>
<rect x="310" y="67.6" width="7.1" height="1.7" fill="#64463c"/>
<rect x="321.8" y="60.2" width="2.9" height="11.9" fill="#dc55ff"/>
<rect x="308.1" y="77.9" width="13.6" height="11.5" fill="#52cdff"/>
<rect x="307.6" y="74.3" width="7.9" height="3.6" fill="#52cdff"/>
<rect x="308.3" y="76.4" width="4.4" height="1.3" fill="#ffffff"/>
<rect x="311" y="80.7" width="1.7" height="6.3" fill="#64463c"/>
<rect x="316.4" y="80.7" width="1.7" height="6.3" fill="#64463c"/>
<rect x="311" y="85.3" width="7.1" height="1.7" fill="#64463c"/>
<rect x="322" y="77.1" width="2.7" height="13.4" fill="#dc55ff"/>
<rect x="285.1" y="609.7" width="5.1" height="40.7" fill="#dc55ff"/>
<rect x="285.1" y="633.5" width="5.1" height="12.6" fill="#b98769"/>
<rect x="285.1" y="616" width="5.1" height="12.7" fill="#b98769"/>
<rect x="285.1" y="633.5" width="5.1" height="12.6" fill="url(#dots)"/>
<rect x="285.1" y="616" width="5.1" height="12.7" fill="url(#hatch)"/>
<rect x="272.8" y="634.8" width="12.3" height="11.6" fill="#52cdff"/>
<rect x="278.2" y="646.4" width="6.9" height="3.3" fill="#52cdff"/>
<rect x="280.2" y="646.4" width="4.2" height="1.2" fill="#ffffff"/>
<rect x="271.1" y="634.6" width="1.7" height="11.8" fill="#78c050"/>
<rect x="281" y="637.4" width="1.7" height="6.3" fill="#64463c"/>
<rect x="275.6" y="637.4" width="1.7" height="6.3" fill="#64463c"/>
<rect x="275.6" y="637.4" width="7.1" height="1.7" fill="#64463c"/>
<rect x="268" y="634.6" width="2.9" height="11.9" fill="#dc55ff"/>
<rect x="271" y="617.3" width="13.6" height="11.5" fill="#52cdff"/>
<rect x="277.2" y="628.8" width="7.9" height="3.6" fill="#52cdff"/>
<rect x="280" y="629" width="4.4" height="1.3" fill="#ffffff"/>
<rect x="280" y="619.7" width="1.7" height="6.3" fill="#64463c"/>
<rect x="274.6" y="619.7" width="1.7" height="6.3" fill="#64463c"/>
<rect x="274.6" y="619.7" width="7.1" height="1.7" fill="#64463c"/>
<rect x="268" y="616.2" width="2.7" height="13.4" fill="#dc55ff"/>
<rect x="66.3" y="289.2" width="40.7" height="5.1" fill="#dc55ff"/>
<rect x="70.6" y="289.2" width="12.6" height="5.1" fill="#b98769"/>
<rect x="88" y="289.2" width="12.7" height="5.1" fill="#b98769"/>
<rect x="70.6" y="289.2" width="12.6" height="5.1" fill="url(#dots)"/>
<rect x="88" y="289.2" width="12.7" height="5.1" fill="url(#hatch)"/>
<rect x="70.3" y="276.9" width="11.6" height="12.3" fill="#52cdff"/>
<rect x="67" y="282.3" width="3.3" height="6.9" fill="#52cdff"/>
<rect x="69.1" y="284.3" width="1.2" height="4.2" fill="#ffffff"/>
<rect x="70.3" y="275.2" width="11.8" height="1.7" fill="#78c050"/>
<rect x="73" y="285.1" width="6.3" height="1.7" fill="#64463c"/>
<rect x="73" y="279.7" width="6.3" height="1.7" fill="#64463c"/>
<rect x="77.6" y="279.7" width="1.7" height="7.1" fill="#64463c"/>
<rect x="70.2" y="272.1" width="11.9" height="2.9" fill="#dc55ff"/>
<rect x="87.9" y="275.1" width="11.5" height="13.6" fill="#52cdff"/>
<rect x="84.3" y="281.3" width="3.6" height="7.9" fill="#52cdff"/>
<rect x="86.4" y="284.1" width="1.3" height="4.4" fill="#ffffff"/>
<rect x="90.7" y="284.1" width="6.3" height="1.7" fill="#64463c"/>
<rect x="90.7" y="278.7" width="6.3" height="1.7" fill="#64463c"/>
<rect x="95.3" y="278.7" width="1.7" height="7.1" fill="#64463c"/>
<rect x="87.1" y="272.1" width="13.4" height="2.7" fill="#dc55ff"/>
<rect x="620.5" y="275.75" width="40.7" height="5.1" fill="#dc55ff"/>
<rect x="644.3" y="275.75" width="12.6" height="5.1" fill="#b98769"/>
<rect x="626.8" y="275.75" width="12.7" height="5.1" fill="#b98769"/>
<rect x="644.3" y="275.75" width="12.6" height="5.1" fill="url(#dots)"/>
<rect x="626.8" y="275.75" width="12.7" height="5.1" fill="url(#hatch)"/>
<rect x="645.6" y="280.85" width="11.6" height="12.3" fill="#52cdff"/>
<rect x="657.2" y="280.85" width="3.3" height="6.9" fill="#52cdff"/>
<rect x="657.2" y="281.55" width="1.2" height="4.2" fill="#ffffff"/>
<rect x="645.4" y="293.15" width="11.8" height="1.7" fill="#78c050"/>
<rect x="648.2" y="283.25" width="6.3" height="1.7" fill="#64463c"/>
<rect x="648.2" y="288.65" width="6.3" height="1.7" fill="#64463c"/>
<rect x="648.2" y="283.25" width="1.7" height="7.1" fill="#64463c"/>
<rect x="645.4" y="295.05" width="11.9" height="2.9" fill="#dc55ff"/>
<rect x="628.1" y="281.35" width="11.5" height="13.6" fill="#52cdff"/>
<rect x="639.6" y="280.85" width="3.6" height="7.9" fill="#52cdff"/>
<rect x="639.8" y="281.55" width="1.3" height="4.4" fill="#ffffff"/>
<rect x="630.5" y="284.25" width="6.3" height="1.7" fill="#64463c"/>
<rect x="630.5" y="289.65" width="6.3" height="1.7" fill="#64463c"/>
<rect x="630.5" y="284.25" width="1.7" height="7.1" fill="#64463c"/>
<rect x="627" y="295.25" width="13.4" height="2.7" fill="#dc55ff"/>
<rect x="347.9" y="56.3" width="5.1" height="40.7" fill="#dc55ff"/>
<rect x="347.9" y="60.6" width="5.1" height="12.6" fill="#b98769"/>
<rect x="347.9" y="78" width="5.1" height="12.7" fill="#b98769"/>
<rect x="347.9" y="60.6" width="5.1" height="12.6" fill="url(#dots)"/>
<rect x="347.9" y="78" width="5.1" height="12.7" fill="url(#hatch)"/>
<rect x="353" y="60.3" width="12.3" height="11.6" fill="#52cdff"/>
<rect x="353" y="57" width="6.9" height="3.3" fill="#52cdff"/>
<rect x="353.7" y="59.1" width="4.2" height="1.2" fill="#ffffff"/>
<rect x="365.3" y="60.3" width="1.7" height="11.8" fill="#78c050"/>
<rect x="355.4" y="63" width="1.7" height="6.3" fill="#64463c"/>
<rect x="360.8" y="63" width="1.7" height="6.3" fill="#64463c"/>
<rect x="355.4" y="67.6" width="7.1" height="1.7" fill="#64463c"/>
<rect x="367.2" y="60.2" width="2.9" height="11.9" fill="#dc55ff"/>
<rect x="353.5" y="77.9" width="13.6" height="11.5" fill="#52cdff"/>
<rect x="353" y="74.3" width="7.9" height="3.6" fill="#52cdff"/>
<rect x="353.7" y="76.4" width="4.4" height="1.3" fill="#ffffff"/>
<rect x="356.4" y="80.7" width="1.7" height="6.3" fill="#64463c"/>
<rect x="361.8" y="80.7" width="1.7" height="6.3" fill="#64463c"/>
<rect x="356.4" y="85.3" width="7.1" height="1.7" fill="#64463c"/>
<rect x="367.4" y="77.1" width="2.7" height="13.4" fill="#dc55ff"/>
<rect x="330.6" y="609.7" width="5.1" height="40.7" fill="#dc55ff"/>
<rect x="330.6" y="633.5" width="5.1" height="12.6" fill="#b98769"/>
<rect x="330.6" y="616" width="5.1" height="12.7" fill="#b98769"/>
<rect x="330.6" y="633.5" width="5.1" height="12.6" fill="url(#dots)"/>
<rect x="330.6" y="616" width="5.1" height="12.7" fill="url(#hatch)"/>
<rect x="318.3" y="634.8" width="12.3" height="11.6" fill="#52cdff"/>
<rect x="323.7" y="646.4" width="6.9" height="3.3" fill="#52cdff"/>
<rect x="325.7" y="646.4" width="4.2" height="1.2" fill="#ffffff"/>
<rect x="316.6" y="634.6" width="1.7" height="11.8" fill="#78c050"/>
<rect x="326.5" y="637.4" width="1.7" height="6.3" fill="#64463c"/>
<rect x="321.1" y="637.4" width="1.7" height="6.3" fill="#64463c"/>
<rect x="321.1" y="637.4" width="7.1" height="1.7" fill="#64463c"/>
<rect x="313.5" y="634.6" width="2.9" height="11.9" fill="#dc55ff"/>
<rect x="316.5" y="617.3" width="13.6" height="11.5" fill="#52cdff"/>
<rect x="322.7" y="628.8" width="7.9" height="3.6" fill="#52cdff"/>
<rect x="325.5" y="629" width="4.4" height="1.3" fill="#ffffff"/>
<rect x="325.5" y="619.7" width="1.7" height="6.3" fill="#64463c"/>
<rect x="320.1" y="619.7" width="1.7" height="6.3" fill="#64463c"/>
<rect x="320.1" y="619.7" width="7.1" height="1.7" fill="#64463c"/>
<rect x="313.5" y="616.2" width="2.7" height="13.4" fill="#dc55ff"/>
<rect x="66.3" y="333.7" width="40.7" height="5.1" fill="#dc55ff"/>
<rect x="70.6" y="333.7" width="12.6" height="5.1" fill="#b98769"/>
<rect x="88" y="333.7" width="12.7" height="5.1" fill="#b98769"/>
<rect x="70.6" y="333.7" width="12.6" height="5.1" fill="url(#dots)"/>
<rect x="88" y="333.7" width="12.7" height="5.1" fill="url(#hatch)"/>
<rect x="70.3" y="321.4" width="11.6" height="12.3" fill="#52cdff"/>
<rect x="67" y="326.8" width="3.3" height="6.9" fill="#52cdff"/>
<rect x="69.1" y="328.8" width="1.2" height="4.2" fill="#ffffff"/>
<rect x="70.3" y="319.7" width="11.8" height="1.7" fill="#78c050"/>
<rect x="73" y="329.6" width="6.3" height="1.7" fill="#64463c"/>
<rect x="73" y="324.2" width="6.3" height="1.7" fill="#64463c"/>
<rect x="77.6" y="324.2" width="1.7" height="7.1" fill="#64463c"/>
<rect x="70.2" y="316.6" width="11.9" height="2.9" fill="#dc55ff"/>
<rect x="87.9" y="319.6" width="11.5" height="13.6" fill="#52cdff"/>
<rect x="84.3" y="325.8" width="3.6" height="7.9" fill="#52cdff"/>
<rect x="86.4" y="328.6" width="1.3" height="4.4" fill="#ffffff"/>
<rect x="90.7" y="328.6" width="6.3" height="1.7" fill="#64463c"/>
<rect x="90.7" y="323.2" width="6.3" height="1.7" fill="#64463c"/>
<rect x="95.3" y="323.2" width="1.7" height="7.1" fill="#64463c"/>
<rect x="87.1" y="316.6" width="13.4" height="2.7" fill="#dc55ff"/>
<rect x="620.5" y="322.05" width="40.7" height="5.1" fill="#dc55ff"/>
<rect x="644.3" y="322.05" width="12.6" height="5.1" fill="#b98769"/>
<rect x="626.8" y="322.05" width="12.7" height="5.1" fill="#b98769"/>
<rect x="644.3" y="322.05" width="12.6" height="5.1" fill="url(#dots)"/>
<rect x="626.8" y="322.05" width="12.7" height="5.1" fill="url(#hatch)"/>
<rect x="645.6" y="327.15" width="11.6" height="12.3" fill="#52cdff"/>
<rect x="657.2" y="327.15" width="3.3" height="6.9" fill="#52cdff"/>
<rect x="657.2" y="327.85" width="1.2" height="4.2" fill="#ffffff"/>
<rect x="645.4" y="339.45" width="11.8" height="1.7" fill="#78c050"/>
<rect x="648.2" y="329.55" width="6.3" height="1.7" fill="#64463c"/>
<rect x="648.2" y="334.95" width="6.3" height="1.7" fill="#64463c"/>
<rect x="648.2" y="329.55" width="1.7" height="7.1" fill="#64463c"/>
<rect x="645.4" y="341.35" width="11.9" height="2.9" fill="#dc55ff"/>
<rect x="628.1" y="327.65" width="11.5" height="13.6" fill="#52cdff"/>
<rect x="639.6" y="327.15" width="3.6" height="7.9" fill="#52cdff"/>
<rect x="639.8" y="327.85" width="1.3" height="4.4" fill="#ffffff"/>
<rect x="630.5" y="330.55" width="6.3" height="1.7" fill="#64463c"/>
<rect x="630.5" y="335.95" width="6.3" height="1.7" fill="#64463c"/>
<rect x="630.5" y="330.55" width="1.7" height="7.1" fill="#64463c"/>
<rect x="627" y="341.55" width="13.4" height="2.7" fill="#dc55ff"/>
<rect x="393.1" y="56.3" width="5.1" height="40.7" fill="#dc55ff"/>
<rect x="393.1" y="60.6" width="5.1" height="12.6" fill="#b98769"/>
<rect x="393.1" y="78" width="5.1" height="12.7" fill="#b98769"/>
<rect x="393.1" y="60.6" width="5.1" height="12.6" fill="url(#dots)"/>
<rect x="393.1" y="78" width="5.1" height="12.7" fill="url(#hatch)"/>
<rect x="398.2" y="60.3" width="12.3" height="11.6" fill="#52cdff"/>
<rect x="398.2" y="57" width="6.9" height="3.3" fill="#52cdff"/>
<rect x="398.9" y="59.1" width="4.2" height="1.2" fill="#ffffff"/>
<rect x="410.5" y="60.3" width="1.7" height="11.8" fill="#78c050"/>
<rect x="400.6" y="63" width="1.7" height="6.3" fill="#64463c"/>
<rect x="406" y="63" width="1.7" height="6.3" fill="#64463c"/>
<rect x="400.6" y="67.6" width="7.1" height="1.7" fill="#64463c"/>
<rect x="412.4" y="60.2" width="2.9" height="11.9" fill="#dc55ff"/>
<rect x="398.7" y="77.9" width="13.6" height="11.5" fill="#52cdff"/>
<rect x="398.2" y="74.3" width="7.9" height="3.6" fill="#52cdff"/>
<rect x="398.9" y="76.4" width="4.4" height="1.3" fill="#ffffff"/>
<rect x="401.6" y="80.7" width="1.7" height="6.3" fill="#64463c"/>
<rect x="407" y="80.7" width="1.7" height="6.3" fill="#64463c"/>
<rect x="401.6" y="85.3" width="7.1" height="1.7" fill="#64463c"/>
<rect x="412.6" y="77.1" width="2.7" height="13.4" fill="#dc55ff"/>
<rect x="375.8" y="609.7" width="5.1" height="40.7" fill="#dc55ff"/>
<rect x="375.8" y="633.5" width="5.1" height="12.6" fill="#b98769"/>
<rect x="375.8" y="616" width="5.1" height="12.7" fill="#b98769"/>
<rect x="375.8" y="633.5" width="5.1" height="12.6" fill="url(#dots)"/>
<rect x="375.8" y="616" width="5.1" height="12.7" fill="url(#hatch)"/>
<rect x="363.5" y="634.8" width="12.3" height="11.6" fill="#52cdff"/>
<rect x="368.9" y="646.4" width="6.9" height="3.3" fill="#52cdff"/>
<rect x="370.9" y="646.4" width="4.2" height="1.2" fill="#ffffff"/>
<rect x="361.8" y="634.6" width="1.7" height="11.8" fill="#78c050"/>
<rect x="371.7" y="637.4" width="1.7" height="6.3" fill="#64463c"/>
<rect x="366.3" y="637.4" width="1.7" height="6.3" fill="#64463c"/>
<rect x="366.3" y="637.4" width="7.1" height="1.7" fill="#64463c"/>
<rect x="358.7" y="634.6" width="2.9" height="11.9" fill="#dc55ff"/>
<rect x="361.7" y="617.3" width="13.6" height="11.5" fill="#52cdff"/>
<rect x="367.9" y="628.8" width="7.9" height="3.6" fill="#52cdff"/>
<rect x="370.7" y="629" width="4.4" height="1.3" fill="#ffffff"/>
<rect x="370.7" y="619.7" width="1.7" height="6.3" fill="#64463c"/>
<rect x="365.3" y="619.7" width="1.7" height="6.3" fill="#64463c"/>
<rect x="365.3" y="619.7" width="7.1" height="1.7" fill="#64463c"/>
<rect x="358.7" y="616.2" width="2.7" height="13.4" fill="#dc55ff"/>
<rect x="66.3" y="379.2" width="40.7" height="5.1" fill="#dc55ff"/>
<rect x="70.6" y="379.2" width="12.6" height="5.1" fill="#b98769"/>
<rect x="88" y="379.2" width="12.7" height="5.1" fill="#b98769"/>
<rect x="70.6" y="379.2" width="12.6" height="5.1" fill="url(#dots)"/>
<rect x="88" y="379.2" width="12.7" height="5.1" fill="url(#hatch)"/>
<rect x="70.3" y="366.9" width="11.6" height="12.3" fill="#52cdff"/>
<rect x="67" y="372.3" width="3.3" height="6.9" fill="#52cdff"/>
<rect x="69.1" y="374.3" width="1.2" height="4.2" fill="#ffffff"/>
<rect x="70.3" y="365.2" width="11.8" height="1.7" fill="#78c050"/>
<rect x="73" y="375.1" width="6.3" height="1.7" fill="#64463c"/>
<rect x="73" y="369.7" width="6.3" height="1.7" fill="#64463c"/>
<rect x="77.6" y="369.7" width="1.7" height="7.1" fill="#64463c"/>
<rect x="70.2" y="362.1" width="11.9" height="2.9" fill="#dc55ff"/>
<rect x="87.9" y="365.1" width="11.5" height="13.6" fill="#52cdff"/>
<rect x="84.3" y="371.3" width="3.6" height="7.9" fill="#52cdff"/>
<rect x="86.4" y="374.1" width="1.3" height="4.4" fill="#ffffff"/>
<rect x="90.7" y="374.1" width="6.3" height="1.7" fill="#64463c"/>
<rect x="90.7" y="368.7" width="6.3" height="1.7" fill="#64463c"/>
<rect x="95.3" y="368.7" width="1.7" height="7.1" fill="#64463c"/>
<rect x="87.1" y="362.1" width="13.4" height="2.7" fill="#dc55ff"/>
<rect x="620.5" y="367.95" width="40.7" height="5.1" fill="#dc55ff"/>
<rect x="644.3" y="367.95" width="12.6" height="5.1" fill="#b98769"/>
<rect x="626.8" y="367.95" width="12.7" height="5.1" fill="#b98769"/>
<rect x="644.3" y="367.95" width="12.6" height="5.1" fill="url(#dots)"/>
<rect x="626.8" y="367.95" width="12.7" height="5.1" fill="url(#hatch)"/>
<rect x="645.6" y="373.05" width="11.6" height="12.3" fill="#52cdff"/>
<rect x="657.2" y="373.05" width="3.3" height="6.9" fill="#52cdff"/>
<rect x="657.2" y="373.75" width="1.2" height="4.2" fill="#ffffff"/>
<rect x="645.4" y="385.35" width="11.8" height="1.7" fill="#78c050"/>
<rect x="648.2" y="375.45" width="6.3" height="1.7" fill="#64463c"/>
<rect x="648.2" y="380.85" width="6.3" height="1.7" fill="#64463c"/>
<rect x="648.2" y="375.45" width="1.7" height="7.1" fill="#64463c"/>
<rect x="645.4" y="387.25" width="11.9" height="2.9" fill="#dc55ff"/>
<rect x="628.1" y="373.55" width="11.5" height="13.6" fill="#52cdff"/>
<rect x="639.6" y="373.05" width="3.6" height="7.9" fill="#52cdff"/>
<rect x="639.8" y="373.75" width="1.3" height="4.4" fill="#ffffff"/>
<rect x="630.5" y="376.45" width="6.3" height="1.7" fill="#64463c"/>
<rect x="630.5" y="381.85" width="6.3" height="1.7" fill="#64463c"/>
<rect x="630.5" y="376.45" width="1.7" height="7.1" fill="#64463c"/>
<rect x="627" y="387.45" width="13.4" height="2.7" fill="#dc55ff"/>
<rect x="438.2" y="56.3" width="5.1" height="40.7" fill="#dc55ff"/>
<rect x="438.2" y="60.6" width="5.1" height="12.6" fill="#b98769"/>
<rect x="438.2" y="78" width="5.1" height="12.7" fill="#b98769"/>
<rect x="438.2" y="60.6" width="5.1" height="12.6" fill="url(#dots)"/>
<rect x="438.2" y="78" width="5.1" height="12.7" fill="url(#hatch)"/>
<rect x="443.3" y="60.3" width="12.3" height="11.6" fill="#52cdff"/>
<rect x="443.3" y="57" width="6.9" height="3.3" fill="#52cdff"/>
<rect x="444" y="59.1" width="4.2" height="1.2" fill="#ffffff"/>
<rect x="455.6" y="60.3" width="1.7" height="11.8" fill="#78c050"/>
<rect x="445.7" y="63" width="1.7" height="6.3" fill="#64463c"/>
<rect x="451.1" y="63" width="1.7" height="6.3" fill="#64463c"/>
<rect x="445.7" y="67.6" width="7.1" height="1.7" fill="#64463c"/>
<rect x="457.5" y="60.2" width="2.9" height="11.9" fill="#dc55ff"/>
<rect x="443.8" y="77.9" width="13.6" height="11.5" fill="#52cdff"/>
<rect x="443.3" y="74.3" width="7.9" height="3.6" fill="#52cdff"/>
<rect x="444" y="76.4" width="4.4" height="1.3" fill="#ffffff"/>
<rect x="446.7" y="80.7" width="1.7" height="6.3" fill="#64463c"/>
<rect x="452.1" y="80.7" width="1.7" height="6.3" fill="#64463c"/>
<rect x="446.7" y="85.3" width="7.1" height="1.7" fill="#64463c"/>
<rect x="457.7" y="77.1" width="2.7" height="13.4" fill="#dc55ff"/>
<rect x="421.3" y="609.7" width="5.1" height="40.7" fill="#dc55ff"/>
<rect x="421.3" y="633.5" width="5.1" height="12.6" fill="#b98769"/>
<rect x="421.3" y="616" width="5.1" height="12.7" fill="#b98769"/>
<rect x="421.3" y="633.5" width="5.1" height="12.6" fill="url(#dots)"/>
<rect x="421.3" y="616" width="5.1" height="12.7" fill="url(#hatch)"/>
<rect x="409" y="634.8" width="12.3" height="11.6" fill="#52cdff"/>
<rect x="414.4" y="646.4" width="6.9" height="3.3" fill="#52cdff"/>
<rect x="416.4" y="646.4" width="4.2" height="1.2" fill="#ffffff"/>
<rect x="407.3" y="634.6" width="1.7" height="11.8" fill="#78c050"/>
<rect x="417.2" y="637.4" width="1.7" height="6.3" fill="#64463c"/>
<rect x="411.8" y="637.4" width="1.7" height="6.3" fill="#64463c"/>
<rect x="411.8" y="637.4" width="7.1" height="1.7" fill="#64463c"/>
<rect x="404.2" y="634.6" width="2.9" height="11.9" fill="#dc55ff"/>
<rect x="407.2" y="617.3" width="13.6" height="11.5" fill="#52cdff"/>
<rect x="413.4" y="628.8" width="7.9" height="3.6" fill="#52cdff"/>
<rect x="416.2" y="629" width="4.4" height="1.3" fill="#ffffff"/>
<rect x="416.2" y="619.7" width="1.7" height="6.3" fill="#64463c"/>
<rect x="410.8" y="619.7" width="1.7" height="6.3" fill="#64463c"/>
<rect x="410.8" y="619.7" width="7.1" height="1.7" fill="#64463c"/>
<rect x="404.2" y="616.2" width="2.7" height="13.4" fill="#dc55ff"/>
<rect x="66.3" y="425.2" width="40.7" height="5.1" fill="#dc55ff"/>
<rect x="70.6" y="425.2" width="12.6" height="5.1" fill="#b98769"/>
<rect x="88" y="425.2" width="12.7" height="5.1" fill="#b98769"/>
<rect x="70.6" y="425.2" width="12.6" height="5.1" fill="url(#dots)"/>
<rect x="88" y="425.2" width="12.7" height="5.1" fill="url(#hatch)"/>
<rect x="70.3" y="412.9" width="11.6" height="12.3" fill="#52cdff"/>
<rect x="67" y="418.3" width="3.3" height="6.9" fill="#52cdff"/>
<rect x="69.1" y="420.3" width="1.2" height="4.2" fill="#ffffff"/>
<rect x="70.3" y="411.2" width="11.8" height="1.7" fill="#78c050"/>
<rect x="73" y="421.1" width="6.3" height="1.7" fill="#64463c"/>
<rect x="73" y="415.7" width="6.3" height="1.7" fill="#64463c"/>
<rect x="77.6" y="415.7" width="1.7" height="7.1" fill="#64463c"/>
<rect x="70.2" y="408.1" width="11.9" height="2.9" fill="#dc55ff"/>
<rect x="87.9" y="411.1" width="11.5" height="13.6" fill="#52cdff"/>
<rect x="84.3" y="417.3" width="3.6" height="7.9" fill="#52cdff"/>
<rect x="86.4" y="420.1" width="1.3" height="4.4" fill="#ffffff"/>
<rect x="90.7" y="420.1" width="6.3" height="1.7" fill="#64463c"/>
<rect x="90.7" y="414.7" width="6.3" height="1.7" fill="#64463c"/>
<rect x="95.3" y="414.7" width="1.7" height="7.1" fill="#64463c"/>
<rect x="87.1" y="408.1" width="13.4" height="2.7" fill="#dc55ff"/>
<rect x="620.5" y="412.05" width="40.7" height="5.1" fill="#dc55ff"/>
<rect x="644.3" y="412.05" width="12.6" height="5.1" fill="#b98769"/>
<rect x="626.8" y="412.05" width="12.7" height="5.1" fill="#b98769"/>
<rect x="644.3" y="412.05" width="12.6" height="5.1" fill="url(#dots)"/>
<rect x="626.8" y="412.05" width="12.7" height="5.1" fill="url(#hatch)"/>
<rect x="645.6" y="417.15" width="11.6" height="12.3" fill="#52cdff"/>
<rect x="657.2" y="417.15" width="3.3" height="6.9" fill="#52cdff"/>
<rect x="657.2" y="417.85" width="1.2" height="4.2" fill="#ffffff"/>
<rect x="645.4" y="429.45" width="11.8" height="1.7" fill="#78c050"/>
<rect x="648.2" y="419.55" width="6.3" height="1.7" fill="#64463c"/>
<rect x="648.2" y="424.95" width="6.3" height="1.7" fill="#64463c"/>
<rect x="648.2" y="419.55" width="1.7" height="7.1" fill="#64463c"/>
<rect x="645.4" y="431.35" width="11.9" height="2.9" fill="#dc55ff"/>
<rect x="628.1" y="417.65" width="11.5" height="13.6" fill="#52cdff"/>
<rect x="639.6" y="417.15" width="3.6" height="7.9" fill="#52cdff"/>
<rect x="639.8" y="417.85" width="1.3" height="4.4" fill="#ffffff"/>
<rect x="630.5" y="420.55" width="6.3" height="1.7" fill="#64463c"/>
<rect x="630.5" y="425.95" width="6.3" height="1.7" fill="#64463c"/>
<rect x="630.5" y="420.55" width="1.7" height="7.1" fill="#64463c"/>
<rect x="627" y="431.55" width="13.4" height="2.7" fill="#dc55ff"/>
<rect x="483.4" y="56.3" width="5.1" height="40.7" fill="#dc55ff"/>
<rect x="483.4" y="60.6" width="5.1" height="12.6" fill="#b98769"/>
<rect x="483.4" y="78" width="5.1" height="12.7" fill="#b98769"/>
<rect x="483.4" y="60.6" width="5.1" height="12.6" fill="url(#dots)"/>
<rect x="483.4" y="78" width="5.1" height="12.7" fill="url(#hatch)"/>
<rect x="488.5" y="60.3" width="12.3" height="11.6" fill="#52cdff"/>
<rect x="488.5" y="57" width="6.9" height="3.3" fill="#52cdff"/>
<rect x="489.2" y="59.1" width="4.2" height="1.2" fill="#ffffff"/>
<rect x="500.8" y="60.3" width="1.7" height="11.8" fill="#78c050"/>
<rect x="490.9" y="63" width="1.7" height="6.3" fill="#64463c"/>
<rect x="496.3" y="63" width="1.7" height="6.3" fill="#64463c"/>
<rect x="490.9" y="67.6" width="7.1" height="1.7" fill="#64463c"/>
<rect x="502.7" y="60.2" width="2.9" height="11.9" fill="#dc55ff"/>
<rect x="489" y="77.9" width="13.6" height="11.5" fill="#52cdff"/>
<rect x="488.5" y="74.3" width="7.9" height="3.6" fill="#52cdff"/>
<rect x="489.2" y="76.4" width="4.4" height="1.3" fill="#ffffff"/>
<rect x="491.9" y="80.7" width="1.7" height="6.3" fill="#64463c"/>
<rect x="497.3" y="80.7" width="1.7" height="6.3" fill="#64463c"/>
<rect x="491.9" y="85.3" width="7.1" height="1.7" fill="#64463c"/>
<rect x="502.9" y="77.1" width="2.7" height="13.4" fill="#dc55ff"/>
<rect x="466.6" y="609.7" width="5.1" height="40.7" fill="#dc55ff"/>
<rect x="466.6" y="633.5" width="5.1" height="12.6" fill="#b98769"/>
<rect x="466.6" y="616" width="5.1" height="12.7" fill="#b98769"/>
<rect x="466.6" y="633.5" width="5.1" height="12.6" fill="url(#dots)"/>
<rect x="466.6" y="616" width="5.1" height="12.7" fill="url(#hatch)"/>
<rect x="454.3" y="634.8" width="12.3" height="11.6" fill="#52cdff"/>
<rect x="459.7" y="646.4" width="6.9" height="3.3" fill="#52cdff"/>
<rect x="461.7" y="646.4" width="4.2" height="1.2" fill="#ffffff"/>
<rect x="452.6" y="634.6" width="1.7" height="11.8" fill="#78c050"/>
<rect x="462.5" y="637.4" width="1.7" height="6.3" fill="#64463c"/>
<rect x="457.1" y="637.4" width="1.7" height="6.3" fill="#64463c"/>
<rect x="457.1" y="637.4" width="7.1" height="1.7" fill="#64463c"/>
<rect x="449.5" y="634.6" width="2.9" height="11.9" fill="#dc55ff"/>
<rect x="452.5" y="617.3" width="13.6" height="11.5" fill="#52cdff"/>
<rect x="458.7" y="628.8" width="7.9" height="3.6" fill="#52cdff"/>
<rect x="461.5" y="629" width="4.4" height="1.3" fill="#ffffff"/>
<rect x="461.5" y="619.7" width="1.7" height="6.3" fill="#64463c"/>
<rect x="456.1" y="619.7" width="1.7" height="6.3" fill="#64463c"/>
<rect x="456.1" y="619.7" width="7.1" height="1.7" fill="#64463c"/>
<rect x="449.5" y="616.2" width="2.7" height="13.4" fill="#dc55ff"/>
<rect x="66.3" y="470.7" width="40.7" height="5.1" fill="#dc55ff"/>
<rect x="70.6" y="470.7" width="12.6" height="5.1" fill="#b98769"/>
<rect x="88" y="470.7" width="12.7" height="5.1" fill="#b98769"/>
<rect x="70.6" y="470.7" width="12.6" height="5.1" fill="url(#dots)"/>
<rect x="88" y="470.7" width="12.7" height="5.1" fill="url(#hatch)"/>
<rect x="70.3" y="458.4" width="11.6" height="12.3" fill="#52cdff"/>
<rect x="67" y="463.8" width="3.3" height="6.9" fill="#52cdff"/>
<rect x="69.1" y="465.8" width="1.2" height="4.2" fill="#ffffff"/>
<rect x="70.3" y="456.7" width="11.8" height="1.7" fill="#78c050"/>
<rect x="73" y="466.6" width="6.3" height="1.7" fill="#64463c"/>
<rect x="73" y="461.2" width="6.3" height="1.7" fill="#64463c"/>
<rect x="77.6" y="461.2" width="1.7" height="7.1" fill="#64463c"/>
<rect x="70.2" y="453.6" width="11.9" height="2.9" fill="#dc55ff"/>
<rect x="87.9" y="456.6" width="11.5" height="13.6" fill="#52cdff"/>
<rect x="84.3" y="462.8" width="3.6" height="7.9" fill="#52cdff"/>
<rect x="86.4" y="465.6" width="1.3" height="4.4" fill="#ffffff"/>
<rect x="90.7" y="465.6" width="6.3" height="1.7" fill="#64463c"/>
<rect x="90.7" y="460.2" width="6.3" height="1.7" fill="#64463c"/>
<rect x="95.3" y="460.2" width="1.7" height="7.1" fill="#64463c"/>
<rect x="87.1" y="453.6" width="13.4" height="2.7" fill="#dc55ff"/>
<rect x="620.5" y="457.45" width="40.7" height="5.1" fill="#dc55ff"/>
<rect x="644.3" y="457.45" width="12.6" height="5.1" fill="#b98769"/>
<rect x="626.8" y="457.45" width="12.7" height="5.1" fill="#b98769"/>
<rect x="644.3" y="457.45" width="12.6" height="5.1" fill="url(#dots)"/>
<rect x="626.8" y="457.45" width="12.7" height="5.1" fill="url(#hatch)"/>
<rect x="645.6" y="462.55" width="11.6" height="12.3" fill="#52cdff"/>
<rect x="657.2" y="462.55" width="3.3" height="6.9" fill="#52cdff"/>
<rect x="657.2" y="463.25" width="1.2" height="4.2" fill="#ffffff"/>
<rect x="645.4" y="474.85" width="11.8" height="1.7" fill="#78c050"/>
<rect x="648.2" y="464.95" width="6.3" height="1.7" fill="#64463c"/>
<rect x="648.2" y="470.35" width="6.3" height="1.7" fill="#64463c"/>
<rect x="648.2" y="464.95" width="1.7" height="7.1" fill="#64463c"/>
<rect x="645.4" y="476.75" width="11.9" height="2.9" fill="#dc55ff"/>
<rect x="628.1" y="463.05" width="11.5" height="13.6" fill="#52cdff"/>
<rect x="639.6" y="462.55" width="3.6" height="7.9" fill="#52cdff"/>
<rect x="639.8" y="463.25" width="1.3" height="4.4" fill="#ffffff"/>
<rect x="630.5" y="465.95" width="6.3" height="1.7" fill="#64463c"/>
<rect x="630.5" y="471.35" width="6.3" height="1.7" fill="#64463c"/>
<rect x="630.5" y="465.95" width="1.7" height="7.1" fill="#64463c"/>
<rect x="627" y="476.95" width="13.4" height="2.7" fill="#dc55ff"/>
<rect x="529.2" y="56.3" width="5.1" height="40.7" fill="#dc55ff"/>
<rect x="529.2" y="60.6" width="5.1" height="12.6" fill="#b98769"/>
<rect x="529.2" y="78" width="5.1" height="12.7" fill="#b98769"/>
<rect x="529.2" y="60.6" width="5.1" height="12.6" fill="url(#dots)"/>
<rect x="529.2" y="78" width="5.1" height="12.7" fill="url(#hatch)"/>
<rect x="534.3" y="60.3" width="12.3" height="11.6" fill="#52cdff"/>
<rect x="534.3" y="57" width="6.9" height="3.3" fill="#52cdff"/>
<rect x="535" y="59.1" width="4.2" height="1.2" fill="#ffffff"/>
<rect x="546.6" y="60.3" width="1.7" height="11.8" fill="#78c050"/>
<rect x="536.7" y="63" width="1.7" height="6.3" fill="#64463c"/>
<rect x="542.1" y="63" width="1.7" height="6.3" fill="#64463c"/>
<rect x="536.7" y="67.6" width="7.1" height="1.7" fill="#64463c"/>
<rect x="548.5" y="60.2" width="2.9" height="11.9" fill="#dc55ff"/>
<rect x="534.8" y="77.9" width="13.6" height="11.5" fill="#52cdff"/>
<rect x="534.3" y="74.3" width="7.9" height="3.6" fill="#52cdff"/>
<rect x="535" y="76.4" width="4.4" height="1.3" fill="#ffffff"/>
<rect x="537.7" y="80.7" width="1.7" height="6.3" fill="#64463c"/>
<rect x="543.1" y="80.7" width="1.7" height="6.3" fill="#64463c"/>
<rect x="537.7" y="85.3" width="7.1" height="1.7" fill="#64463c"/>
<rect x="548.7" y="77.1" width="2.7" height="13.4" fill="#dc55ff"/>
<rect x="511.7" y="609.7" width="5.1" height="40.7" fill="#dc55ff"/>
<rect x="511.7" y="633.5" width="5.1" height="12.6" fill="#b98769"/>
<rect x="511.7" y="616" width="5.1" height="12.7" fill="#b98769"/>
<rect x="511.7" y="633.5" width="5.1" height="12.6" fill="url(#dots)"/>
<rect x="511.7" y="616" width="5.1" height="12.7" fill="url(#hatch)"/>
<rect x="499.4" y="634.8" width="12.3" height="11.6" fill="#52cdff"/>
<rect x="504.8" y="646.4" width="6.9" height="3.3" fill="#52cdff"/>
<rect x="506.8" y="646.4" width="4.2" height="1.2" fill="#ffffff"/>
<rect x="497.7" y="634.6" width="1.7" height="11.8" fill="#78c050"/>
<rect x="507.6" y="637.4" width="1.7" height="6.3" fill="#64463c"/>
<rect x="502.2" y="637.4" width="1.7" height="6.3" fill="#64463c"/>
<rect x="502.2" y="637.4" width="7.1" height="1.7" fill="#64463c"/>
<rect x="494.6" y="634.6" width="2.9" height="11.9" fill="#dc55ff"/>
<rect x="497.6" y="617.3" width="13.6" height="11.5" fill="#52cdff"/>
<rect x="503.8" y="628.8" width="7.9" height="3.6" fill="#52cdff"/>
<rect x="506.6" y="629" width="4.4" height="1.3" fill="#ffffff"/>
<rect x="506.6" y="619.7" width="1.7" height="6.3" fill="#64463c"/>
<rect x="501.2" y="619.7" width="1.7" height="6.3" fill="#64463c"/>
<rect x="501.2" y="619.7" width="7.1" height="1.7" fill="#64463c"/>
<rect x="494.6" y="616.2" width="2.7" height="13.4" fill="#dc55ff"/>
<rect x="66.3" y="515.3" width="40.7" height="5.1" fill="#dc55ff"/>
<rect x="70.6" y="515.3" width="12.6" height="5.1" fill="#b98769"/>
<rect x="88" y="515.3" width="12.7" height="5.1" fill="#b98769"/>
<rect x="70.6" y="515.3" width="12.6" height="5.1" fill="url(#dots)"/>
<rect x="88" y="515.3" width="12.7" height="5.1" fill="url(#hatch)"/>
<rect x="70.3" y="503" width="11.6" height="12.3" fill="#52cdff"/>
<rect x="67" y="508.4" width="3.3" height="6.9" fill="#52cdff"/>
<rect x="69.1" y="510.4" width="1.2" height="4.2" fill="#ffffff"/>
<rect x="70.3" y="501.3" width="11.8" height="1.7" fill="#78c050"/>
<rect x="73" y="511.2" width="6.3" height="1.7" fill="#64463c"/>
<rect x="73" y="505.8" width="6.3" height="1.7" fill="#64463c"/>
<rect x="77.6" y="505.8" width="1.7" height="7.1" fill="#64463c"/>
<rect x="70.2" y="498.2" width="11.9" height="2.9" fill="#dc55ff"/>
<rect x="87.9" y="501.2" width="11.5" height="13.6" fill="#52cdff"/>
<rect x="84.3" y="507.4" width="3.6" height="7.9" fill="#52cdff"/>
<rect x="86.4" y="510.2" width="1.3" height="4.4" fill="#ffffff"/>
<rect x="90.7" y="510.2" width="6.3" height="1.7" fill="#64463c"/>
<rect x="90.7" y="504.8" width="6.3" height="1.7" fill="#64463c"/>
<rect x="95.3" y="504.8" width="1.7" height="7.1" fill="#64463c"/>
<rect x="87.1" y="498.2" width="13.4" height="2.7" fill="#dc55ff"/>
<rect x="620.5" y="504.25" width="40.7" height="5.1" fill="#dc55ff"/>
<rect x="644.3" y="504.25" width="12.6" height="5.1" fill="#b98769"/>
<rect x="626.8" y="504.25" width="12.7" height="5.1" fill="#b98769"/>
<rect x="644.3" y="504.25" width="12.6" height="5.1" fill="url(#dots)"/>
<rect x="626.8" y="504.25" width="12.7" height="5.1" fill="url(#hatch)"/>
<rect x="645.6" y="509.35" width="11.6" height="12.3" fill="#52cdff"/>
<rect x="657.2" y="509.35" width="3.3" height="6.9" fill="#52cdff"/>
<rect x="657.2" y="510.05" width="1.2" height="4.2" fill="#ffffff"/>
<rect x="645.4" y="521.65" width="11.8" height="1.7" fill="#78c050"/>
<rect x="648.2" y="511.75" width="6.3" height="1.7" fill="#64463c"/>
<rect x="648.2" y="517.15" width="6.3" height="1.7" fill="#64463c"/>
<rect x="648.2" y="511.75" width="1.7" height="7.1" fill="#64463c"/>
<rect x="645.4" y="523.55" width="11.9" height="2.9" fill="#dc55ff"/>
<rect x="628.1" y="509.85" width="11.5" height="13.6" fill="#52cdff"/>
<rect x="639.6" y="509.35" width="3.6" height="7.9" fill="#52cdff"/>
<rect x="639.8" y="510.05" width="1.3" height="4.4" fill="#ffffff"/>
<rect x="630.5" y="512.75" width="6.3" height="1.7" fill="#64463c"/>
<rect x="630.5" y="518.15" width="6.3" height="1.7" fill="#64463c"/>
<rect x="630.5" y="512.75" width="1.7" height="7.1" fill="#64463c"/>
<rect x="627" y="523.75" width="13.4" height="2.7" fill="#dc55ff"/>
<rect x="574.7" y="56.3" width="5.1" height="40.7" fill="#dc55ff"/>
<rect x="574.7" y="60.6" width="5.1" height="12.6" fill="#b98769"/>
<rect x="574.7" y="78" width="5.1" height="12.7" fill="#b98769"/>
<rect x="574.7" y="60.6" width="5.1" height="12.6" fill="url(#dots)"/>
<rect x="574.7" y="78" width="5.1" height="12.7" fill="url(#hatch)"/>
<rect x="579.8" y="60.3" width="12.3" height="11.6" fill="#52cdff"/>
<rect x="579.8" y="57" width="6.9" height="3.3" fill="#52cdff"/>
<rect x="580.5" y="59.1" width="4.2" height="1.2" fill="#ffffff"/>
<rect x="592.1" y="60.3" width="1.7" height="11.8" fill="#78c050"/>
<rect x="582.2" y="63" width="1.7" height="6.3" fill="#64463c"/>
<rect x="587.6" y="63" width="1.7" height="6.3" fill="#64463c"/>
<rect x="582.2" y="67.6" width="7.1" height="1.7" fill="#64463c"/>
<rect x="594" y="60.2" width="2.9" height="11.9" fill="#dc55ff"/>
<rect x="580.3" y="77.9" width="13.6" height="11.5" fill="#52cdff"/>
<rect x="579.8" y="74.3" width="7.9" height="3.6" fill="#52cdff"/>
<rect x="580.5" y="76.4" width="4.4" height="1.3" fill="#ffffff"/>
<rect x="583.2" y="80.7" width="1.7" height="6.3" fill="#64463c"/>
<rect x="588.6" y="80.7" width="1.7" height="6.3" fill="#64463c"/>
<rect x="583.2" y="85.3" width="7.1" height="1.7" fill="#64463c"/>
<rect x="594.2" y="77.1" width="2.7" height="13.4" fill="#dc55ff"/>
<rect x="556.1" y="609.7" width="5.1" height="40.7" fill="#dc55ff"/>
<rect x="556.1" y="633.5" width="5.1" height="12.6" fill="#b98769"/>
<rect x="556.1" y="616" width="5.1" height="12.7" fill="#b98769"/>
<rect x="556.1" y="633.5" width="5.1" height="12.6" fill="url(#dots)"/>
<rect x="556.1" y="616" width="5.1" height="12.7" fill="url(#hatch)"/>
<rect x="543.8" y="634.8" width="12.3" height="11.6" fill="#52cdff"/>
<rect x="549.2" y="646.4" width="6.9" height="3.3" fill="#52cdff"/>
<rect x="551.2" y="646.4" width="4.2" height="1.2" fill="#ffffff"/>
<rect x="542.1" y="634.6" width="1.7" height="11.8" fill="#78c050"/>
<rect x="552" y="637.4" width="1.7" height="6.3" fill="#64463c"/>
<rect x="546.6" y="637.4" width="1.7" height="6.3" fill="#64463c"/>
<rect x="546.6" y="637.4" width="7.1" height="1.7" fill="#64463c"/>
<rect x="539" y="634.6" width="2.9" height="11.9" fill="#dc55ff"/>
<rect x="542" y="617.3" width="13.6" height="11.5" fill="#52cdff"/>
<rect x="548.2" y="628.8" width="7.9" height="3.6" fill="#52cdff"/>
<rect x="551" y="629" width="4.4" height="1.3" fill="#ffffff"/>
<rect x="551" y="619.7" width="1.7" height="6.3" fill="#64463c"/>
<rect x="545.6" y="619.7" width="1.7" height="6.3" fill="#64463c"/>
<rect x="545.6" y="619.7" width="7.1" height="1.7" fill="#64463c"/>
<rect x="539" y="616.2" width="2.7" height="13.4" fill="#dc55ff"/>
<rect x="66.3" y="561" width="40.7" height="5.1" fill="#dc55ff"/>
<rect x="70.6" y="561" width="12.6" height="5.1" fill="#b98769"/>
<rect x="88" y="561" width="12.7" height="5.1" fill="#b98769"/>
<rect x="70.6" y="561" width="12.6" height="5.1" fill="url(#dots)"/>
<rect x="88" y="561" width="12.7" height="5.1" fill="url(#hatch)"/>
<rect x="70.3" y="548.7" width="11.6" height="12.3" fill="#52cdff"/>
<rect x="67" y="554.1" width="3.3" height="6.9" fill="#52cdff"/>
<rect x="69.1" y="556.1" width="1.2" height="4.2" fill="#ffffff"/>
<rect x="70.3" y="547" width="11.8" height="1.7" fill="#78c050"/>
<rect x="73" y="556.9" width="6.3" height="1.7" fill="#64463c"/>
<rect x="73" y="551.5" width="6.3" height="1.7" fill="#64463c"/>
<rect x="77.6" y="551.5" width="1.7" height="7.1" fill="#64463c"/>
<rect x="70.2" y="543.9" width="11.9" height="2.9" fill="#dc55ff"/>
<rect x="87.9" y="546.9" width="11.5" height="13.6" fill="#52cdff"/>
<rect x="84.3" y="553.1" width="3.6" height="7.9" fill="#52cdff"/>
<rect x="86.4" y="555.9" width="1.3" height="4.4" fill="#ffffff"/>
<rect x="90.7" y="555.9" width="6.3" height="1.7" fill="#64463c"/>
<rect x="90.7" y="550.5" width="6.3" height="1.7" fill="#64463c"/>
<rect x="95.3" y="550.5" width="1.7" height="7.1" fill="#64463c"/>
<rect x="87.1" y="543.9" width="13.4" height="2.7" fill="#dc55ff"/>
<rect x="620.5" y="549.05" width="40.7" height="5.1" fill="#dc55ff"/>
<rect x="644.3" y="549.05" width="12.6" height="5.1" fill="#b98769"/>
<rect x="626.8" y="549.05" width="12.7" height="5.1" fill="#b98769"/>
<rect x="644.3" y="549.05" width="12.6" height="5.1" fill="url(#dots)"/>
<rect x="626.8" y="549.05" width="12.7" height="5.1" fill="url(#hatch)"/>
<rect x="645.6" y="554.15" width="11.6" height="12.3" fill="#52cdff"/>
<rect x="657.2" y="554.15" width="3.3" height="6.9" fill="#52cdff"/>
<rect x="657.2" y="554.85" width="1.2" height="4.2" fill="#ffffff"/>
<rect x="645.4" y="566.45" width="11.8" height="1.7" fill="#78c050"/>
<rect x="648.2" y="556.55" width="6.3" height="1.7" fill="#64463c"/>
<rect x="648.2" y="561.95" width="6.3" height="1.7" fill="#64463c"/>
<rect x="648.2" y="556.55" width="1.7" height="7.1" fill="#64463c"/>
<rect x="645.4" y="568.35" width="11.9" height="2.9" fill="#dc55ff"/>
<rect x="628.1" y="554.65" width="11.5" height="13.6" fill="#52cdff"/>
<rect x="639.6" y="554.15" width="3.6" height="7.9" fill="#52cdff"/>
<rect x="639.8" y="554.85" width="1.3" height="4.4" fill="#ffffff"/>
<rect x="630.5" y="557.55" width="6.3" height="1.7" fill="#64463c"/>
<rect x="630.5" y="562.95" width="6.3" height="1.7" fill="#64463c"/>
<rect x="630.5" y="557.55" width="1.7" height="7.1" fill="#64463c"/>
<rect x="627" y="568.55" width="13.4" height="2.7" fill="#dc55ff"/>
<rect x="543.1" y="139.9" width="42.9" height="31.2" fill="#6ccec9"/>
<rect x="544.4" y="171" width="2.4" height="38" fill="#52cdff"/>
<rect x="546.8" y="176.2" width="37" height="2.8" fill="#52cdff"/>
<rect x="546.8" y="185.4" width="37" height="2.4" fill="#52cdff"/>
<rect x="582.4" y="171" width="2.1" height="39" fill="#52cdff"/>
<rect x="549.6" y="171" width="1.4" height="14" fill="#52cdff"/>
<rect x="557.1" y="179" width="1.5" height="7" fill="#52cdff"/>
<rect x="569.8" y="196.7" width="10.9" height="8.6" fill="#52cdff"/>
<rect x="546.8" y="195.5" width="14.2" height="1.5" fill="#52cdff"/>
<rect x="546.8" y="203.5" width="14.2" height="1.5" fill="#52cdff"/>
<rect x="546.8" y="207.5" width="23.2" height="1.5" fill="#52cdff"/>
<rect x="573" y="186" width="2" height="11" fill="#52cdff"/>
<rect x="561" y="188" width="2" height="21" fill="#52cdff"/>
<rect x="551.3" y="179" width="1.7" height="7" fill="#ff9dc0"/>
<rect x="555.5" y="188" width="1.5" height="8" fill="#ff9dc0"/>
<rect x="549" y="196" width="12" height="1.2" fill="#ff9dc0"/>
<rect x="549" y="204" width="12" height="1" fill="#ff9dc0"/>
<rect x="565" y="171" width="2" height="14" fill="#dc55ff"/>
<rect x="566.3" y="190.7" width="10.3" height="4.2" fill="#dc55ff"/>
<rect x="542.95" y="170.95" width="1.5" height="1.5" fill="#8a5a28"/>
<rect x="542.95" y="184.05" width="1.5" height="1.5" fill="#8a5a28"/>
<rect x="542.95" y="191.05" width="1.5" height="1.5" fill="#8a5a28"/>
<rect x="542.95" y="200.95" width="1.5" height="1.5" fill="#8a5a28"/>
<rect x="573.25" y="174.25" width="1.5" height="1.5" fill="#8a5a28"/>
<rect x="578.25" y="170.75" width="1.5" height="1.5" fill="#8a5a28"/>
<rect x="573.25" y="184.25" width="1.5" height="1.5" fill="#8a5a28"/>
<rect x="578.25" y="179.25" width="1.5" height="1.5" fill="#8a5a28"/>
<rect x="573.25" y="189.25" width="1.5" height="1.5" fill="#8a5a28"/>
<rect x="578.25" y="190.25" width="1.5" height="1.5" fill="#8a5a28"/>
<rect x="578.25" y="199.25" width="1.5" height="1.5" fill="#8a5a28"/>
<rect x="573.25" y="209.25" width="1.5" height="1.5" fill="#8a5a28"/>
<rect x="578.25" y="207.25" width="1.5" height="1.5" fill="#8a5a28"/>
<rect x="547.25" y="209.25" width="1.5" height="1.5" fill="#8a5a28"/>
<rect x="555.25" y="209.25" width="1.5" height="1.5" fill="#8a5a28"/>
<path d="M547,171l10,10M553,171l12,12M548,186l10,10M556,186l10,10M548,200l8,8M558,200l8,8" stroke="#8a5a28" stroke-width="1"/>
<rect x="548.1" y="218.9" width="34" height="95.4" fill="#ffbe0a"/>
<path clip-path="url(#oclip)" d="M547.5,219.78a1.5,1.5 0 1,0 3.0,0a1.5,1.5 0 1,0 -3.0,0zM547.5,224.85a1.5,1.5 0 1,0 3.0,0a1.5,1.5 0 1,0 -3.0,0zM552.5,217.23a1.5,1.5 0 1,0 3.0,0a1.5,1.5 0 1,0 -3.0,0zM552.5,222.3a1.5,1.5 0 1,0 3.0,0a1.5,1.5 0 1,0 -3.0,0zM557.5,219.78a1.5,1.5 0 1,0 3.0,0a1.5,1.5 0 1,0 -3.0,0zM557.5,224.85a1.5,1.5 0 1,0 3.0,0a1.5,1.5 0 1,0 -3.0,0zM562.5,217.23a1.5,1.5 0 1,0 3.0,0a1.5,1.5 0 1,0 -3.0,0zM562.5,222.3a1.5,1.5 0 1,0 3.0,0a1.5,1.5 0 1,0 -3.0,0zM567.4,219.78a1.5,1.5 0 1,0 3.0,0a1.5,1.5 0 1,0 -3.0,0zM567.4,224.85a1.5,1.5 0 1,0 3.0,0a1.5,1.5 0 1,0 -3.0,0zM572.4,217.23a1.5,1.5 0 1,0 3.0,0a1.5,1.5 0 1,0 -3.0,0zM572.4,222.3a1.5,1.5 0 1,0 3.0,0a1.5,1.5 0 1,0 -3.0,0zM577.4,219.78a1.5,1.5 0 1,0 3.0,0a1.5,1.5 0 1,0 -3.0,0zM577.4,224.85a1.5,1.5 0 1,0 3.0,0a1.5,1.5 0 1,0 -3.0,0z" fill="none" stroke="#505050" stroke-width="1.5"/>
<path clip-path="url(#oclip)" d="M547.5,229.92a1.5,1.5 0 1,0 3.0,0a1.5,1.5 0 1,0 -3.0,0zM547.5,234.99a1.5,1.5 0 1,0 3.0,0a1.5,1.5 0 1,0 -3.0,0zM547.5,240.06a1.5,1.5 0 1,0 3.0,0a1.5,1.5 0 1,0 -3.0,0zM552.5,227.37a1.5,1.5 0 1,0 3.0,0a1.5,1.5 0 1,0 -3.0,0zM552.5,232.44a1.5,1.5 0 1,0 3.0,0a1.5,1.5 0 1,0 -3.0,0zM552.5,237.51a1.5,1.5 0 1,0 3.0,0a1.5,1.5 0 1,0 -3.0,0zM557.5,229.92a1.5,1.5 0 1,0 3.0,0a1.5,1.5 0 1,0 -3.0,0zM557.5,234.99a1.5,1.5 0 1,0 3.0,0a1.5,1.5 0 1,0 -3.0,0zM557.5,240.06a1.5,1.5 0 1,0 3.0,0a1.5,1.5 0 1,0 -3.0,0zM562.5,227.37a1.5,1.5 0 1,0 3.0,0a1.5,1.5 0 1,0 -3.0,0zM562.5,232.44a1.5,1.5 0 1,0 3.0,0a1.5,1.5 0 1,0 -3.0,0zM562.5,237.51a1.5,1.5 0 1,0 3.0,0a1.5,1.5 0 1,0 -3.0,0zM572.4,227.37a1.5,1.5 0 1,0 3.0,0a1.5,1.5 0 1,0 -3.0,0zM572.4,232.44a1.5,1.5 0 1,0 3.0,0a1.5,1.5 0 1,0 -3.0,0zM572.4,237.51a1.5,1.5 0 1,0 3.0,0a1.5,1.5 0 1,0 -3.0,0zM577.4,229.92a1.5,1.5 0 1,0 3.0,0a1.5,1.5 0 1,0 -3.0,0zM577.4,234.99a1.5,1.5 0 1,0 3.0,0a1.5,1.5 0 1,0 -3.0,0zM577.4,240.06a1.5,1.5 0 1,0 3.0,0a1.5,1.5 0 1,0 -3.0,0z" fill="none" stroke="#ffffff" stroke-width="1.4"/>
<path clip-path="url(#oclip)" d="M547.75,245.13a1.25,1.25 0 1,0 2.5,0a1.25,1.25 0 1,0 -2.5,0zM547.75,250.2a1.25,1.25 0 1,0 2.5,0a1.25,1.25 0 1,0 -2.5,0zM547.75,255.27a1.25,1.25 0 1,0 2.5,0a1.25,1.25 0 1,0 -2.5,0zM547.75,260.34a1.25,1.25 0 1,0 2.5,0a1.25,1.25 0 1,0 -2.5,0zM547.75,265.41a1.25,1.25 0 1,0 2.5,0a1.25,1.25 0 1,0 -2.5,0zM547.75,270.48a1.25,1.25 0 1,0 2.5,0a1.25,1.25 0 1,0 -2.5,0zM547.75,275.55a1.25,1.25 0 1,0 2.5,0a1.25,1.25 0 1,0 -2.5,0zM547.75,280.62a1.25,1.25 0 1,0 2.5,0a1.25,1.25 0 1,0 -2.5,0zM547.75,285.69a1.25,1.25 0 1,0 2.5,0a1.25,1.25 0 1,0 -2.5,0zM547.75,290.76a1.25,1.25 0 1,0 2.5,0a1.25,1.25 0 1,0 -2.5,0zM547.75,295.83a1.25,1.25 0 1,0 2.5,0a1.25,1.25 0 1,0 -2.5,0zM547.75,300.9a1.25,1.25 0 1,0 2.5,0a1.25,1.25 0 1,0 -2.5,0zM547.75,305.97a1.25,1.25 0 1,0 2.5,0a1.25,1.25 0 1,0 -2.5,0zM547.75,311.04a1.25,1.25 0 1,0 2.5,0a1.25,1.25 0 1,0 -2.5,0zM547.75,316.11a1.25,1.25 0 1,0 2.5,0a1.25,1.25 0 1,0 -2.5,0zM552.75,242.58a1.25,1.25 0 1,0 2.5,0a1.25,1.25 0 1,0 -2.5,0zM552.75,247.65a1.25,1.25 0 1,0 2.5,0a1.25,1.25 0 1,0 -2.5,0zM552.75,252.72a1.25,1.25 0 1,0 2.5,0a1.25,1.25 0 1,0 -2.5,0zM552.75,257.79a1.25,1.25 0 1,0 2.5,0a1.25,1.25 0 1,0 -2.5,0zM552.75,262.86a1.25,1.25 0 1,0 2.5,0a1.25,1.25 0 1,0 -2.5,0zM552.75,267.93a1.25,1.25 0 1,0 2.5,0a1.25,1.25 0 1,0 -2.5,0zM552.75,273a1.25,1.25 0 1,0 2.5,0a1.25,1.25 0 1,0 -2.5,0zM552.75,278.07a1.25,1.25 0 1,0 2.5,0a1.25,1.25 0 1,0 -2.5,0zM552.75,283.14a1.25,1.25 0 1,0 2.5,0a1.25,1.25 0 1,0 -2.5,0zM552.75,288.21a1.25,1.25 0 1,0 2.5,0a1.25,1.25 0 1,0 -2.5,0zM552.75,293.28a1.25,1.25 0 1,0 2.5,0a1.25,1.25 0 1,0 -2.5,0zM552.75,298.35a1.25,1.25 0 1,0 2.5,0a1.25,1.25 0 1,0 -2.5,0zM552.75,303.42a1.25,1.25 0 1,0 2.5,0a1.25,1.25 0 1,0 -2.5,0zM552.75,308.49a1.25,1.25 0 1,0 2.5,0a1.25,1.25 0 1,0 -2.5,0zM552.75,313.56a1.25,1.25 0 1,0 2.5,0a1.25,1.25 0 1,0 -2.5,0zM557.75,245.13a1.25,1.25 0 1,0 2.5,0a1.25,1.25 0 1,0 -2.5,0zM557.75,250.2a1.25,1.25 0 1,0 2.5,0a1.25,1.25 0 1,0 -2.5,0zM557.75,255.27a1.25,1.25 0 1,0 2.5,0a1.25,1.25 0 1,0 -2.5,0zM557.75,260.34a1.25,1.25 0 1,0 2.5,0a1.25,1.25 0 1,0 -2.5,0zM557.75,265.41a1.25,1.25 0 1,0 2.5,0a1.25,1.25 0 1,0 -2.5,0zM557.75,270.48a1.25,1.25 0 1,0 2.5,0a1.25,1.25 0 1,0 -2.5,0zM557.75,275.55a1.25,1.25 0 1,0 2.5,0a1.25,1.25 0 1,0 -2.5,0zM557.75,280.62a1.25,1.25 0 1,0 2.5,0a1.25,1.25 0 1,0 -2.5,0zM557.75,285.69a1.25,1.25 0 1,0 2.5,0a1.25,1.25 0 1,0 -2.5,0zM557.75,290.76a1.25,1.25 0 1,0 2.5,0a1.25,1.25 0 1,0 -2.5,0zM557.75,295.83a1.25,1.25 0 1,0 2.5,0a1.25,1.25 0 1,0 -2.5,0zM557.75,300.9a1.25,1.25 0 1,0 2.5,0a1.25,1.25 0 1,0 -2.5,0zM557.75,305.97a1.25,1.25 0 1,0 2.5,0a1.25,1.25 0 1,0 -2.5,0zM557.75,311.04a1.25,1.25 0 1,0 2.5,0a1.25,1.25 0 1,0 -2.5,0zM557.75,316.11a1.25,1.25 0 1,0 2.5,0a1.25,1.25 0 1,0 -2.5,0zM562.75,242.58a1.25,1.25 0 1,0 2.5,0a1.25,1.25 0 1,0 -2.5,0zM562.75,247.65a1.25,1.25 0 1,0 2.5,0a1.25,1.25 0 1,0 -2.5,0zM562.75,252.72a1.25,1.25 0 1,0 2.5,0a1.25,1.25 0 1,0 -2.5,0zM562.75,257.79a1.25,1.25 0 1,0 2.5,0a1.25,1.25 0 1,0 -2.5,0zM562.75,262.86a1.25,1.25 0 1,0 2.5,0a1.25,1.25 0 1,0 -2.5,0zM562.75,267.93a1.25,1.25 0 1,0 2.5,0a1.25,1.25 0 1,0 -2.5,0zM562.75,273a1.25,1.25 0 1,0 2.5,0a1.25,1.25 0 1,0 -2.5,0zM562.75,278.07a1.25,1.25 0 1,0 2.5,0a1.25,1.25 0 1,0 -2.5,0zM562.75,283.14a1.25,1.25 0 1,0 2.5,0a1.25,1.25 0 1,0 -2.5,0zM562.75,288.21a1.25,1.25 0 1,0 2.5,0a1.25,1.25 0 1,0 -2.5,0zM562.75,293.28a1.25,1.25 0 1,0 2.5,0a1.25,1.25 0 1,0 -2.5,0zM562.75,298.35a1.25,1.25 0 1,0 2.5,0a1.25,1.25 0 1,0 -2.5,0zM562.75,303.42a1.25,1.25 0 1,0 2.5,0a1.25,1.25 0 1,0 -2.5,0zM562.75,308.49a1.25,1.25 0 1,0 2.5,0a1.25,1.25 0 1,0 -2.5,0zM562.75,313.56a1.25,1.25 0 1,0 2.5,0a1.25,1.25 0 1,0 -2.5,0zM572.65,242.58a1.25,1.25 0 1,0 2.5,0a1.25,1.25 0 1,0 -2.5,0zM572.65,247.65a1.25,1.25 0 1,0 2.5,0a1.25,1.25 0 1,0 -2.5,0zM572.65,252.72a1.25,1.25 0 1,0 2.5,0a1.25,1.25 0 1,0 -2.5,0zM572.65,257.79a1.25,1.25 0 1,0 2.5,0a1.25,1.25 0 1,0 -2.5,0zM572.65,262.86a1.25,1.25 0 1,0 2.5,0a1.25,1.25 0 1,0 -2.5,0zM572.65,267.93a1.25,1.25 0 1,0 2.5,0a1.25,1.25 0 1,0 -2.5,0zM572.65,273a1.25,1.25 0 1,0 2.5,0a1.25,1.25 0 1,0 -2.5,0zM572.65,278.07a1.25,1.25 0 1,0 2.5,0a1.25,1.25 0 1,0 -2.5,0zM572.65,283.14a1.25,1.25 0 1,0 2.5,0a1.25,1.25 0 1,0 -2.5,0zM572.65,288.21a1.25,1.25 0 1,0 2.5,0a1.25,1.25 0 1,0 -2.5,0zM572.65,293.28a1.25,1.25 0 1,0 2.5,0a1.25,1.25 0 1,0 -2.5,0zM572.65,298.35a1.25,1.25 0 1,0 2.5,0a1.25,1.25 0 1,0 -2.5,0zM572.65,303.42a1.25,1.25 0 1,0 2.5,0a1.25,1.25 0 1,0 -2.5,0zM572.65,308.49a1.25,1.25 0 1,0 2.5,0a1.25,1.25 0 1,0 -2.5,0zM572.65,313.56a1.25,1.25 0 1,0 2.5,0a1.25,1.25 0 1,0 -2.5,0zM577.65,245.13a1.25,1.25 0 1,0 2.5,0a1.25,1.25 0 1,0 -2.5,0zM577.65,250.2a1.25,1.25 0 1,0 2.5,0a1.25,1.25 0 1,0 -2.5,0zM577.65,255.27a1.25,1.25 0 1,0 2.5,0a1.25,1.25 0 1,0 -2.5,0zM577.65,260.34a1.25,1.25 0 1,0 2.5,0a1.25,1.25 0 1,0 -2.5,0zM577.65,265.41a1.25,1.25 0 1,0 2.5,0a1.25,1.25 0 1,0 -2.5,0zM577.65,270.48a1.25,1.25 0 1,0 2.5,0a1.25,1.25 0 1,0 -2.5,0zM577.65,275.55a1.25,1.25 0 1,0 2.5,0a1.25,1.25 0 1,0 -2.5,0zM577.65,280.62a1.25,1.25 0 1,0 2.5,0a1.25,1.25 0 1,0 -2.5,0zM577.65,285.69a1.25,1.25 0 1,0 2.5,0a1.25,1.25 0 1,0 -2.5,0zM577.65,290.76a1.25,1.25 0 1,0 2.5,0a1.25,1.25 0 1,0 -2.5,0zM577.65,295.83a1.25,1.25 0 1,0 2.5,0a1.25,1.25 0 1,0 -2.5,0zM577.65,300.9a1.25,1.25 0 1,0 2.5,0a1.25,1.25 0 1,0 -2.5,0zM577.65,305.97a1.25,1.25 0 1,0 2.5,0a1.25,1.25 0 1,0 -2.5,0zM577.65,311.04a1.25,1.25 0 1,0 2.5,0a1.25,1.25 0 1,0 -2.5,0zM577.65,316.11a1.25,1.25 0 1,0 2.5,0a1.25,1.25 0 1,0 -2.5,0z" fill="none" stroke="#ff9bc0" stroke-width="1.35"/>
<path clip-path="url(#oclip)" d="M567.8,229.92a1.1,1.1 0 1,0 2.2,0a1.1,1.1 0 1,0 -2.2,0zM567.8,234.99a1.1,1.1 0 1,0 2.2,0a1.1,1.1 0 1,0 -2.2,0zM567.8,240.06a1.1,1.1 0 1,0 2.2,0a1.1,1.1 0 1,0 -2.2,0zM567.8,245.13a1.1,1.1 0 1,0 2.2,0a1.1,1.1 0 1,0 -2.2,0zM567.8,250.2a1.1,1.1 0 1,0 2.2,0a1.1,1.1 0 1,0 -2.2,0zM567.8,255.27a1.1,1.1 0 1,0 2.2,0a1.1,1.1 0 1,0 -2.2,0zM567.8,260.34a1.1,1.1 0 1,0 2.2,0a1.1,1.1 0 1,0 -2.2,0zM567.8,265.41a1.1,1.1 0 1,0 2.2,0a1.1,1.1 0 1,0 -2.2,0zM567.8,270.48a1.1,1.1 0 1,0 2.2,0a1.1,1.1 0 1,0 -2.2,0zM567.8,275.55a1.1,1.1 0 1,0 2.2,0a1.1,1.1 0 1,0 -2.2,0zM567.8,280.62a1.1,1.1 0 1,0 2.2,0a1.1,1.1 0 1,0 -2.2,0zM567.8,285.69a1.1,1.1 0 1,0 2.2,0a1.1,1.1 0 1,0 -2.2,0zM567.8,290.76a1.1,1.1 0 1,0 2.2,0a1.1,1.1 0 1,0 -2.2,0zM567.8,295.83a1.1,1.1 0 1,0 2.2,0a1.1,1.1 0 1,0 -2.2,0zM567.8,300.9a1.1,1.1 0 1,0 2.2,0a1.1,1.1 0 1,0 -2.2,0zM567.8,305.97a1.1,1.1 0 1,0 2.2,0a1.1,1.1 0 1,0 -2.2,0zM567.8,311.04a1.1,1.1 0 1,0 2.2,0a1.1,1.1 0 1,0 -2.2,0zM567.8,316.11a1.1,1.1 0 1,0 2.2,0a1.1,1.1 0 1,0 -2.2,0z" fill="none" stroke="#dc55ff" stroke-width="1.2"/>
<rect x="566.6" y="226" width="1" height="88.3" fill="#dc55ff"/>
<rect x="547.8" y="314.3" width="34.5" height="16" fill="#ff9dc0"/>
<rect x="547.8" y="330.3" width="34.5" height="4.3" fill="#acacac"/>
<rect x="566.2" y="314.3" width="3.8" height="15.7" fill="#dc55ff"/>
<rect x="523.2" y="112.1" width="90.5" height="4.7" fill="#dc55ff"/>
<rect x="523.2" y="112.1" width="4.8" height="387.7" fill="#dc55ff"/>
<rect x="523.2" y="495.7" width="102.6" height="4.1" fill="#dc55ff"/>
<rect x="621.5" y="495.7" width="4.3" height="10.3" fill="#dc55ff"/>
<rect x="609" y="112.1" width="4.7" height="33.7" fill="#dc55ff"/>
<rect x="544.6" y="120" width="61.3" height="2.2" fill="#dc55ff"/>
<rect x="544.6" y="120" width="2" height="20" fill="#dc55ff"/>
<rect x="603.2" y="120" width="2.7" height="25.9" fill="#dc55ff"/>
<rect x="603.2" y="142.2" width="18.8" height="3.7" fill="#dc55ff"/>
<rect x="562.3" y="124.6" width="39.1" height="1.3" fill="#dc55ff"/>
<rect x="562.3" y="124.6" width="1.1" height="15.4" fill="#dc55ff"/>
<rect x="600" y="124.6" width="1.4" height="64.2" fill="#dc55ff"/>
<rect x="600" y="187.3" width="21" height="1.5" fill="#dc55ff"/>
<rect x="564.8" y="127.7" width="31.4" height="1.9" fill="#dc55ff"/>
<rect x="564.8" y="127.7" width="2.1" height="12.3" fill="#dc55ff"/>
<rect x="594.1" y="127.7" width="2.1" height="107.9" fill="#dc55ff"/>
<rect x="594.1" y="233.7" width="26.9" height="1.9" fill="#dc55ff"/>
<rect x="578.2" y="131.1" width="14.1" height="1.3" fill="#dc55ff"/>
<rect x="578.2" y="131.1" width="1.3" height="8.9" fill="#dc55ff"/>
<rect x="590.9" y="131.1" width="1.4" height="148.7" fill="#dc55ff"/>
<rect x="590.9" y="278.4" width="30.1" height="1.4" fill="#dc55ff"/>
<rect x="582.3" y="134.8" width="5.9" height="3" fill="#dc55ff"/>
<rect x="585" y="134.8" width="3.2" height="190.8" fill="#dc55ff"/>
<rect x="585" y="321.2" width="36" height="4.4" fill="#dc55ff"/>
<rect x="543.3" y="212" width="4.5" height="160.7" fill="#dc55ff"/>
<rect x="543.3" y="212" width="26.1" height="4.8" fill="#dc55ff"/>
<rect x="564.6" y="190.2" width="4.8" height="26.6" fill="#dc55ff"/>
<rect x="543.3" y="368" width="78.2" height="4.7" fill="#dc55ff"/>
<rect x="556" y="457.6" width="65.5" height="4.1" fill="#dc55ff"/>
<rect x="604" y="326" width="1.5" height="60.5" fill="#52cdff"/>
<rect x="549.2" y="385" width="56.3" height="1.5" fill="#52cdff"/>
<rect x="549.2" y="385" width="1.5" height="121.5" fill="#52cdff"/>
<rect x="549.2" y="505" width="64.8" height="1.5" fill="#52cdff"/>
<rect x="549.2" y="413.4" width="71.5" height="1.6" fill="#52cdff"/>
<rect x="543" y="446" width="1.5" height="107.3" fill="#52cdff"/>
<rect x="543" y="446" width="15.4" height="1.5" fill="#52cdff"/>
<rect x="557" y="446" width="1.4" height="15" fill="#52cdff"/>
<rect x="543" y="551.8" width="77.3" height="1.5" fill="#52cdff"/>
<rect x="548.2" y="439.8" width="4.8" height="12.3" fill="#77c9a0"/>
<text x="678" y="147.8" font-size="12" text-anchor="middle" fill="#222">pin5</text>
<text x="678" y="193.1" font-size="12" text-anchor="middle" fill="#222">pin4</text>
<text x="678" y="238.3" font-size="12" text-anchor="middle" fill="#222">pin3</text>
<text x="678" y="282.7" font-size="12" text-anchor="middle" fill="#222">pin2</text>
<text x="678" y="328.7" font-size="12" text-anchor="middle" fill="#111" stroke="#111" stroke-width="0.3">pin1</text>
<text x="678" y="374.9" font-size="12" text-anchor="middle" fill="#222">pin40</text>
<text x="678" y="418.7" font-size="12" text-anchor="middle" fill="#111" stroke="#111" stroke-width="0.3">pin39</text>
<text x="678" y="464.1" font-size="12" text-anchor="middle" fill="#111" stroke="#111" stroke-width="0.3">pin38</text>
<text x="678" y="510.9" font-size="12" text-anchor="middle" fill="#111" stroke="#111" stroke-width="0.3">pin37</text>
<text x="678" y="555.7" font-size="12" text-anchor="middle" fill="#111" stroke="#111" stroke-width="0.3">pin36</text>
<text x="612.5" y="328.5" font-size="12" fill="#111">vcc</text>
<text x="612.8" y="509.3" font-size="12" fill="#111">gnd</text>
<g fill="none" stroke="#20f4ff" stroke-width="2.1"><path d="M624.95,310V328.3M639,310.5V323.3M645.4,310.3V323.9M645.4,314.2C646.5,311.3 648.5,311.3 650,311.3C653,311.3 654.2,312.8 654.2,316V323.9M659.3,311.4L665.3,305.8M665.3,305.3V323.6M689.5,310.7L695.6,305.5M695.6,305.2V323.4"/><path d="M671.7,327.55H686.8" stroke-width="2.1"/><ellipse cx="629.35" cy="316.45" rx="4.5" ry="5.35"/></g><rect x="637.8" y="305.6" width="2.4" height="2.4" fill="#20f4ff"/>
<path d="M364.3,361.2H378M371.2,354.3V367.5" stroke="#111" stroke-width="1.35"/>
<text x="318.3" y="714.3" font-size="12" fill="#111" textLength="85.8" lengthAdjust="spacing">vdd vdd 0 DC 5</text>
<text x="324.8" y="727.9" font-size="12" fill="#111" textLength="72.1" lengthAdjust="spacing">vin in 0 DC 0</text>
<text x="322.2" y="741.6" font-size="12" fill="#111" textLength="77.3" lengthAdjust="spacing">.dc vin 0 5 1m</text>
<text x="163.3" y="755.2" font-size="12" fill="#111" textLength="394.7" lengthAdjust="spacing">.include E:\Documents\~Computer\electric-9.07\tutorials\C5_models.txt</text>
</svg></body></html>
